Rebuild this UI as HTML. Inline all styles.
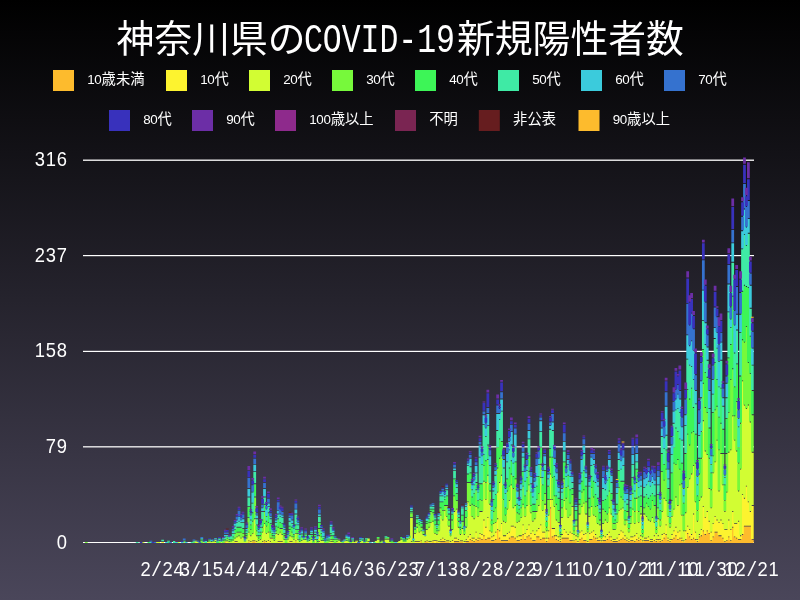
<!DOCTYPE html>
<html lang="ja">
<head>
<meta charset="utf-8">
<title>神奈川県のCOVID-19新規陽性者数</title>
<style>
html,body{margin:0;padding:0;background:#4a465a;}
body{width:800px;height:600px;overflow:hidden;}
svg{display:block;will-change:transform;}
svg text{font-family:"Liberation Mono", "Noto Sans CJK JP", monospace;fill:#fff;}
svg text.d,svg tspan.d{font-family:"Liberation Sans", "Noto Sans CJK JP", sans-serif;}
svg tspan.m{font-family:"Liberation Mono", "Noto Sans CJK JP", monospace;}
#title,#legend,#grid,#xlabels{will-change:transform;}
</style>
</head>
<body>
<svg width="800" height="600" viewBox="0 0 800 600">
<defs><linearGradient id="bg" x1="0" y1="0" x2="0" y2="1"><stop offset="0" stop-color="#000000"/><stop offset="1" stop-color="#4a465a"/></linearGradient></defs>
<rect x="0" y="0" width="800" height="600" fill="url(#bg)"/>
<g id="title" font-size="37.8">
<text y="52.4"><tspan x="116.6">神奈川県の</tspan><tspan x="303.9" font-size="41" textLength="151" lengthAdjust="spacingAndGlyphs">COVID-19</tspan><tspan x="457.0">新規陽性者数</tspan></text>
</g>
<g id="legend" font-size="14.3">
<rect x="53" y="70" width="21" height="21" fill="#fdbb2d"/>
<rect x="166" y="70" width="21" height="21" fill="#fdf32f"/>
<rect x="249" y="70" width="21" height="21" fill="#d2fd33"/>
<rect x="332" y="70" width="21" height="21" fill="#77f93b"/>
<rect x="415" y="70" width="21" height="21" fill="#3df557"/>
<rect x="498" y="70" width="21" height="21" fill="#3feaa5"/>
<rect x="581" y="70" width="21" height="21" fill="#3bcbdc"/>
<rect x="664" y="70" width="21" height="21" fill="#3572cf"/>
<rect x="109" y="110" width="21" height="21" fill="#3831bc"/>
<rect x="192" y="110" width="21" height="21" fill="#6c2ea6"/>
<rect x="275" y="110" width="21" height="21" fill="#8e2a8c"/>
<rect x="395" y="110" width="21" height="21" fill="#7a2552"/>
<rect x="478.8" y="110" width="21" height="21" fill="#661d1f"/>
<rect x="578.5" y="110" width="21" height="21" fill="#fdbb2d"/>
<text y="84.2"><tspan class="d" font-size="13.4" x="87.15 94.30">10</tspan><tspan x="101.60">歳未満</tspan></text>
<text y="84.2"><tspan class="d" font-size="13.4" x="200.15 207.30">10</tspan><tspan x="214.60">代</tspan></text>
<text y="84.2"><tspan class="d" font-size="13.4" x="283.15 290.30">20</tspan><tspan x="297.60">代</tspan></text>
<text y="84.2"><tspan class="d" font-size="13.4" x="366.15 373.30">30</tspan><tspan x="380.60">代</tspan></text>
<text y="84.2"><tspan class="d" font-size="13.4" x="449.15 456.30">40</tspan><tspan x="463.60">代</tspan></text>
<text y="84.2"><tspan class="d" font-size="13.4" x="532.15 539.30">50</tspan><tspan x="546.60">代</tspan></text>
<text y="84.2"><tspan class="d" font-size="13.4" x="615.15 622.30">60</tspan><tspan x="629.60">代</tspan></text>
<text y="84.2"><tspan class="d" font-size="13.4" x="698.15 705.30">70</tspan><tspan x="712.60">代</tspan></text>
<text y="124.2"><tspan class="d" font-size="13.4" x="143.15 150.30">80</tspan><tspan x="157.60">代</tspan></text>
<text y="124.2"><tspan class="d" font-size="13.4" x="226.15 233.30">90</tspan><tspan x="240.60">代</tspan></text>
<text y="124.2"><tspan class="d" font-size="13.4" x="309.15 316.30 323.45">100</tspan><tspan x="330.75">歳以上</tspan></text>
<text y="124.2"><tspan x="429.30">不明</tspan></text>
<text y="124.2"><tspan x="513.10">非公表</tspan></text>
<text y="124.2"><tspan class="d" font-size="13.4" x="612.65 619.80">90</tspan><tspan x="627.10">歳以上</tspan></text>
</g>
<g id="grid">
<rect x="83" y="159" width="671" height="1" fill="#fff" fill-opacity="0.45"/>
<rect x="83" y="160" width="671" height="1" fill="#fff" fill-opacity="0.85"/>
<rect x="83" y="255" width="671" height="1" fill="#fff" fill-opacity="1"/>
<rect x="83" y="256" width="671" height="1" fill="#fff" fill-opacity="0.2"/>
<rect x="83" y="350" width="671" height="1" fill="#fff" fill-opacity="0.2"/>
<rect x="83" y="351" width="671" height="1" fill="#fff" fill-opacity="1"/>
<rect x="83" y="446" width="671" height="1" fill="#fff" fill-opacity="0.8"/>
<rect x="83" y="447" width="671" height="1" fill="#fff" fill-opacity="0.45"/>
<rect x="83" y="542" width="671" height="1" fill="#fff" fill-opacity="1"/>
<text class="d" transform="translate(56.40 548.60) scale(0.92 1)" x="0.42" y="0" font-size="20">0</text>
<text class="d" transform="translate(45.40 453.00) scale(0.92 1)" x="0.42 12.37" y="0" font-size="20">79</text>
<text class="d" transform="translate(34.40 357.40) scale(0.92 1)" x="0.42 12.37 24.33" y="0" font-size="20">158</text>
<text class="d" transform="translate(34.40 261.80) scale(0.92 1)" x="0.42 12.37 24.33" y="0" font-size="20">237</text>
<text class="d" transform="translate(34.40 166.20) scale(0.92 1)" x="0.42 12.37 24.33" y="0" font-size="20">316</text>
</g>
<g id="bars">
<path fill="#fdbb2d" d="M223.95 541.89h2.76v1.11h-2.76zM247.46 541.89h2.76v1.11h-2.76zM251.38 541.89h2.76v1.11h-2.76zM253.34 541.89h2.76v1.11h-2.76zM263.13 541.89h2.76v1.11h-2.76zM294.48 541.89h2.76v1.11h-2.76zM419.86 541.89h2.76v1.11h-2.76zM423.78 541.89h2.76v1.11h-2.76zM425.73 541.89h2.76v1.11h-2.76zM431.61 541.89h2.76v1.11h-2.76zM435.53 541.89h2.76v1.11h-2.76zM439.45 541.89h2.76v1.11h-2.76zM441.41 541.89h2.76v1.11h-2.76zM443.37 541.89h2.76v1.11h-2.76zM445.32 541.89h2.76v1.11h-2.76zM447.28 541.89h2.76v1.11h-2.76zM453.16 541.89h2.76v1.11h-2.76zM455.12 541.89h2.76v1.11h-2.76zM457.08 541.89h2.76v1.11h-2.76zM459.04 541.89h2.76v1.11h-2.76zM461.00 541.89h2.76v1.11h-2.76zM464.92 541.89h2.76v1.11h-2.76zM466.87 541.89h2.76v1.11h-2.76zM468.83 539.79h2.76v3.21h-2.76zM470.79 541.00h2.76v2.00h-2.76zM472.75 541.89h2.76v1.11h-2.76zM474.71 539.79h2.76v3.21h-2.76zM476.67 541.00h2.76v2.00h-2.76zM478.63 538.58h2.76v4.42h-2.76zM480.59 539.79h2.76v3.21h-2.76zM482.55 536.16h2.76v6.84h-2.76zM484.51 539.79h2.76v3.21h-2.76zM486.47 538.58h2.76v4.42h-2.76zM488.42 538.58h2.76v4.42h-2.76zM490.38 541.00h2.76v2.00h-2.76zM492.34 541.00h2.76v2.00h-2.76zM494.30 539.79h2.76v3.21h-2.76zM496.26 530.11h2.76v12.89h-2.76zM498.22 538.58h2.76v4.42h-2.76zM500.18 541.00h2.76v2.00h-2.76zM502.14 541.00h2.76v2.00h-2.76zM504.10 541.00h2.76v2.00h-2.76zM506.06 541.00h2.76v2.00h-2.76zM508.01 538.58h2.76v4.42h-2.76zM509.97 537.37h2.76v5.63h-2.76zM511.93 537.37h2.76v5.63h-2.76zM513.89 538.58h2.76v4.42h-2.76zM515.85 541.00h2.76v2.00h-2.76zM517.81 541.00h2.76v2.00h-2.76zM519.77 539.79h2.76v3.21h-2.76zM521.73 534.95h2.76v8.05h-2.76zM523.69 539.79h2.76v3.21h-2.76zM525.65 537.37h2.76v5.63h-2.76zM527.61 536.16h2.76v6.84h-2.76zM529.56 538.58h2.76v4.42h-2.76zM531.52 541.00h2.76v2.00h-2.76zM533.48 541.00h2.76v2.00h-2.76zM535.44 537.37h2.76v5.63h-2.76zM537.40 537.37h2.76v5.63h-2.76zM539.36 539.79h2.76v3.21h-2.76zM541.32 538.58h2.76v4.42h-2.76zM543.28 538.58h2.76v4.42h-2.76zM545.24 541.89h2.76v1.11h-2.76zM547.20 538.58h2.76v4.42h-2.76zM549.16 508.33h2.76v34.67h-2.76zM551.11 537.37h2.76v5.63h-2.76zM553.07 536.16h2.76v6.84h-2.76zM555.03 539.79h2.76v3.21h-2.76zM556.99 541.00h2.76v2.00h-2.76zM558.95 541.89h2.76v1.11h-2.76zM560.91 538.58h2.76v4.42h-2.76zM562.87 538.58h2.76v4.42h-2.76zM564.83 538.58h2.76v4.42h-2.76zM566.79 538.58h2.76v4.42h-2.76zM568.75 541.00h2.76v2.00h-2.76zM570.70 541.00h2.76v2.00h-2.76zM572.66 541.89h2.76v1.11h-2.76zM574.62 539.79h2.76v3.21h-2.76zM578.54 539.79h2.76v3.21h-2.76zM580.50 538.58h2.76v4.42h-2.76zM582.46 541.00h2.76v2.00h-2.76zM584.42 541.00h2.76v2.00h-2.76zM588.34 539.79h2.76v3.21h-2.76zM590.30 539.79h2.76v3.21h-2.76zM592.25 537.37h2.76v5.63h-2.76zM594.21 538.58h2.76v4.42h-2.76zM596.17 541.00h2.76v2.00h-2.76zM598.13 541.00h2.76v2.00h-2.76zM600.09 541.89h2.76v1.11h-2.76zM602.05 541.00h2.76v2.00h-2.76zM604.01 541.00h2.76v2.00h-2.76zM605.97 539.79h2.76v3.21h-2.76zM607.93 537.37h2.76v5.63h-2.76zM609.89 541.00h2.76v2.00h-2.76zM611.85 541.89h2.76v1.11h-2.76zM613.80 541.89h2.76v1.11h-2.76zM615.76 541.89h2.76v1.11h-2.76zM617.72 541.00h2.76v2.00h-2.76zM619.68 539.79h2.76v3.21h-2.76zM621.64 538.58h2.76v4.42h-2.76zM623.60 539.79h2.76v3.21h-2.76zM625.56 541.00h2.76v2.00h-2.76zM627.52 541.89h2.76v1.11h-2.76zM629.48 541.00h2.76v2.00h-2.76zM631.44 541.00h2.76v2.00h-2.76zM633.40 541.89h2.76v1.11h-2.76zM635.35 539.79h2.76v3.21h-2.76zM637.31 541.00h2.76v2.00h-2.76zM639.27 539.79h2.76v3.21h-2.76zM641.23 541.89h2.76v1.11h-2.76zM643.19 541.00h2.76v2.00h-2.76zM645.15 541.00h2.76v2.00h-2.76zM647.11 541.00h2.76v2.00h-2.76zM649.07 541.89h2.76v1.11h-2.76zM651.03 541.89h2.76v1.11h-2.76zM652.99 541.00h2.76v2.00h-2.76zM654.94 541.89h2.76v1.11h-2.76zM656.90 539.79h2.76v3.21h-2.76zM658.86 541.89h2.76v1.11h-2.76zM660.82 541.00h2.76v2.00h-2.76zM662.78 538.58h2.76v4.42h-2.76zM664.74 534.95h2.76v8.05h-2.76zM666.70 541.00h2.76v2.00h-2.76zM668.66 541.89h2.76v1.11h-2.76zM670.62 539.79h2.76v3.21h-2.76zM672.58 538.58h2.76v4.42h-2.76zM674.54 536.16h2.76v6.84h-2.76zM676.49 539.79h2.76v3.21h-2.76zM678.45 538.58h2.76v4.42h-2.76zM680.41 541.00h2.76v2.00h-2.76zM682.37 541.89h2.76v1.11h-2.76zM684.33 539.79h2.76v3.21h-2.76zM686.29 533.74h2.76v9.26h-2.76zM688.25 537.37h2.76v5.63h-2.76zM690.21 539.79h2.76v3.21h-2.76zM692.17 538.58h2.76v4.42h-2.76zM694.13 539.79h2.76v3.21h-2.76zM696.09 541.89h2.76v1.11h-2.76zM698.04 537.37h2.76v5.63h-2.76zM700.00 536.16h2.76v6.84h-2.76zM701.96 531.32h2.76v11.68h-2.76zM703.92 534.95h2.76v8.05h-2.76zM705.88 531.32h2.76v11.68h-2.76zM707.84 533.74h2.76v9.26h-2.76zM709.80 541.00h2.76v2.00h-2.76zM711.76 537.37h2.76v5.63h-2.76zM713.72 532.53h2.76v10.47h-2.76zM715.68 532.53h2.76v10.47h-2.76zM717.63 536.16h2.76v6.84h-2.76zM719.59 536.16h2.76v6.84h-2.76zM721.55 538.58h2.76v4.42h-2.76zM723.51 541.89h2.76v1.11h-2.76zM725.47 541.00h2.76v2.00h-2.76zM727.43 537.37h2.76v5.63h-2.76zM729.39 541.00h2.76v2.00h-2.76zM731.35 527.69h2.76v15.31h-2.76zM733.31 537.37h2.76v5.63h-2.76zM735.27 538.58h2.76v4.42h-2.76zM737.23 539.79h2.76v3.21h-2.76zM739.18 539.79h2.76v3.21h-2.76zM741.14 534.95h2.76v8.05h-2.76zM743.10 526.48h2.76v16.52h-2.76zM745.06 526.48h2.76v16.52h-2.76zM747.02 526.48h2.76v16.52h-2.76zM748.98 526.48h2.76v16.52h-2.76zM750.94 539.79h2.76v3.21h-2.76z"/>
<path fill="#fdf32f" d="M161.26 541.89h2.76v1.11h-2.76zM194.56 541.89h2.76v1.11h-2.76zM206.32 541.89h2.76v1.11h-2.76zM214.16 541.89h2.76v1.11h-2.76zM225.91 541.89h2.76v1.11h-2.76zM233.75 541.89h2.76v1.11h-2.76zM235.70 541.89h2.76v1.11h-2.76zM247.46 540.68h2.76v1.00h-2.76zM249.42 541.89h2.76v1.11h-2.76zM251.38 540.68h2.76v1.00h-2.76zM253.34 540.68h2.76v1.00h-2.76zM255.30 541.89h2.76v1.11h-2.76zM261.17 541.89h2.76v1.11h-2.76zM263.13 540.68h2.76v1.00h-2.76zM265.09 541.89h2.76v1.11h-2.76zM267.05 541.00h2.76v2.00h-2.76zM269.01 541.89h2.76v1.11h-2.76zM276.85 541.89h2.76v1.11h-2.76zM278.80 541.89h2.76v1.11h-2.76zM280.76 541.89h2.76v1.11h-2.76zM288.60 541.89h2.76v1.11h-2.76zM290.56 541.89h2.76v1.11h-2.76zM294.48 540.68h2.76v1.00h-2.76zM317.99 541.89h2.76v1.11h-2.76zM329.74 541.89h2.76v1.11h-2.76zM343.45 541.89h2.76v1.11h-2.76zM355.21 541.89h2.76v1.11h-2.76zM366.96 541.89h2.76v1.11h-2.76zM410.06 541.89h2.76v1.11h-2.76zM413.98 541.89h2.76v1.11h-2.76zM415.94 541.89h2.76v1.11h-2.76zM417.90 541.89h2.76v1.11h-2.76zM419.86 540.68h2.76v1.00h-2.76zM425.73 540.68h2.76v1.00h-2.76zM427.69 541.89h2.76v1.11h-2.76zM429.65 541.89h2.76v1.11h-2.76zM431.61 540.68h2.76v1.00h-2.76zM433.57 541.00h2.76v2.00h-2.76zM435.53 540.68h2.76v1.00h-2.76zM437.49 541.89h2.76v1.11h-2.76zM439.45 539.79h2.76v1.57h-2.76zM441.41 538.58h2.76v2.78h-2.76zM443.37 539.79h2.76v1.57h-2.76zM445.32 540.68h2.76v1.00h-2.76zM447.28 540.68h2.76v1.00h-2.76zM449.24 541.89h2.76v1.11h-2.76zM451.20 541.00h2.76v2.00h-2.76zM453.16 538.58h2.76v2.78h-2.76zM455.12 538.58h2.76v2.78h-2.76zM457.08 539.79h2.76v1.57h-2.76zM459.04 540.68h2.76v1.00h-2.76zM461.00 540.68h2.76v1.00h-2.76zM462.96 541.89h2.76v1.11h-2.76zM464.92 539.79h2.76v1.57h-2.76zM466.87 537.37h2.76v3.99h-2.76zM468.83 534.95h2.76v3.99h-2.76zM470.79 538.58h2.76v1.57h-2.76zM472.75 538.58h2.76v2.78h-2.76zM474.71 532.53h2.76v6.41h-2.76zM476.67 538.58h2.76v1.57h-2.76zM478.63 533.74h2.76v3.99h-2.76zM480.59 534.95h2.76v3.99h-2.76zM482.55 520.43h2.76v14.88h-2.76zM484.51 527.69h2.76v11.25h-2.76zM486.47 518.01h2.76v19.72h-2.76zM488.42 531.32h2.76v6.41h-2.76zM490.38 537.37h2.76v2.78h-2.76zM492.34 536.16h2.76v3.99h-2.76zM494.30 532.53h2.76v6.41h-2.76zM496.26 519.22h2.76v10.04h-2.76zM498.22 531.32h2.76v6.41h-2.76zM500.18 524.06h2.76v16.09h-2.76zM502.14 536.16h2.76v3.99h-2.76zM504.10 536.16h2.76v3.99h-2.76zM506.06 533.74h2.76v6.41h-2.76zM508.01 532.53h2.76v5.20h-2.76zM509.97 526.48h2.76v10.04h-2.76zM511.93 526.48h2.76v10.04h-2.76zM513.89 527.69h2.76v10.04h-2.76zM515.85 537.37h2.76v2.78h-2.76zM517.81 536.16h2.76v3.99h-2.76zM519.77 536.16h2.76v2.78h-2.76zM521.73 525.27h2.76v8.83h-2.76zM523.69 533.74h2.76v5.20h-2.76zM525.65 530.11h2.76v6.41h-2.76zM527.61 525.27h2.76v10.04h-2.76zM529.56 533.74h2.76v3.99h-2.76zM531.52 531.32h2.76v8.83h-2.76zM533.48 534.95h2.76v5.20h-2.76zM535.44 531.32h2.76v5.20h-2.76zM537.40 528.90h2.76v7.62h-2.76zM539.36 525.27h2.76v13.67h-2.76zM541.32 532.53h2.76v5.20h-2.76zM543.28 532.53h2.76v5.20h-2.76zM545.24 538.58h2.76v2.78h-2.76zM547.20 531.32h2.76v6.41h-2.76zM549.16 499.86h2.76v7.62h-2.76zM551.11 528.90h2.76v7.62h-2.76zM553.07 528.90h2.76v6.41h-2.76zM555.03 536.16h2.76v2.78h-2.76zM556.99 537.37h2.76v2.78h-2.76zM558.95 539.79h2.76v1.57h-2.76zM560.91 534.95h2.76v2.78h-2.76zM562.87 530.11h2.76v7.62h-2.76zM564.83 532.53h2.76v5.20h-2.76zM566.79 534.95h2.76v2.78h-2.76zM568.75 532.53h2.76v7.62h-2.76zM570.70 533.74h2.76v6.41h-2.76zM572.66 540.68h2.76v1.00h-2.76zM574.62 536.16h2.76v2.78h-2.76zM576.58 541.89h2.76v1.11h-2.76zM578.54 532.53h2.76v6.41h-2.76zM580.50 531.32h2.76v6.41h-2.76zM582.46 534.95h2.76v5.20h-2.76zM584.42 533.74h2.76v6.41h-2.76zM586.38 541.89h2.76v1.11h-2.76zM588.34 533.74h2.76v5.20h-2.76zM590.30 532.53h2.76v6.41h-2.76zM592.25 531.32h2.76v5.20h-2.76zM594.21 534.95h2.76v2.78h-2.76zM596.17 538.58h2.76v1.57h-2.76zM598.13 537.37h2.76v2.78h-2.76zM600.09 540.68h2.76v1.00h-2.76zM602.05 536.16h2.76v3.99h-2.76zM604.01 537.37h2.76v2.78h-2.76zM605.97 534.95h2.76v3.99h-2.76zM607.93 532.53h2.76v3.99h-2.76zM609.89 537.37h2.76v2.78h-2.76zM611.85 539.79h2.76v1.57h-2.76zM613.80 539.79h2.76v1.57h-2.76zM615.76 538.58h2.76v2.78h-2.76zM617.72 534.95h2.76v5.20h-2.76zM619.68 531.32h2.76v7.62h-2.76zM621.64 532.53h2.76v5.20h-2.76zM623.60 536.16h2.76v2.78h-2.76zM625.56 538.58h2.76v1.57h-2.76zM627.52 539.79h2.76v1.57h-2.76zM629.48 537.37h2.76v2.78h-2.76zM631.44 537.37h2.76v2.78h-2.76zM633.40 536.16h2.76v5.20h-2.76zM635.35 533.74h2.76v5.20h-2.76zM637.31 538.58h2.76v1.57h-2.76zM639.27 536.16h2.76v2.78h-2.76zM641.23 540.68h2.76v1.00h-2.76zM643.19 538.58h2.76v1.57h-2.76zM645.15 538.58h2.76v1.57h-2.76zM647.11 537.37h2.76v2.78h-2.76zM649.07 539.79h2.76v1.57h-2.76zM651.03 539.79h2.76v1.57h-2.76zM652.99 536.16h2.76v3.99h-2.76zM654.94 539.79h2.76v1.57h-2.76zM656.90 536.16h2.76v2.78h-2.76zM658.86 539.79h2.76v1.57h-2.76zM660.82 534.95h2.76v5.20h-2.76zM662.78 533.74h2.76v3.99h-2.76zM664.74 525.27h2.76v8.83h-2.76zM666.70 538.58h2.76v1.57h-2.76zM668.66 539.79h2.76v1.57h-2.76zM670.62 534.95h2.76v3.99h-2.76zM672.58 531.32h2.76v6.41h-2.76zM674.54 527.69h2.76v7.62h-2.76zM676.49 532.53h2.76v6.41h-2.76zM678.45 531.32h2.76v6.41h-2.76zM680.41 538.58h2.76v1.57h-2.76zM682.37 540.68h2.76v1.00h-2.76zM684.33 531.32h2.76v7.62h-2.76zM686.29 526.48h2.76v6.41h-2.76zM688.25 530.11h2.76v6.41h-2.76zM690.21 534.95h2.76v3.99h-2.76zM692.17 514.38h2.76v23.35h-2.76zM694.13 532.53h2.76v6.41h-2.76zM696.09 539.79h2.76v1.57h-2.76zM698.04 534.95h2.76v1.57h-2.76zM700.00 530.11h2.76v5.20h-2.76zM701.96 507.12h2.76v23.35h-2.76zM703.92 518.01h2.76v16.09h-2.76zM705.88 511.96h2.76v18.51h-2.76zM707.84 521.64h2.76v11.25h-2.76zM709.80 532.53h2.76v7.62h-2.76zM711.76 524.06h2.76v12.46h-2.76zM713.72 516.80h2.76v14.88h-2.76zM715.68 520.43h2.76v11.25h-2.76zM717.63 522.85h2.76v12.46h-2.76zM719.59 520.43h2.76v14.88h-2.76zM721.55 524.06h2.76v13.67h-2.76zM723.51 530.11h2.76v11.25h-2.76zM725.47 530.11h2.76v10.04h-2.76zM727.43 520.43h2.76v16.09h-2.76zM729.39 530.11h2.76v10.04h-2.76zM731.35 511.96h2.76v14.88h-2.76zM733.31 524.06h2.76v12.46h-2.76zM735.27 524.06h2.76v13.67h-2.76zM737.23 521.64h2.76v17.30h-2.76zM739.18 536.16h2.76v2.78h-2.76zM741.14 495.02h2.76v39.08h-2.76zM743.10 498.65h2.76v26.98h-2.76zM745.06 486.55h2.76v39.08h-2.76zM747.02 502.28h2.76v23.35h-2.76zM748.98 511.96h2.76v13.67h-2.76zM750.94 505.91h2.76v33.03h-2.76z"/>
<path fill="#d2fd33" d="M141.67 541.89h2.76v1.11h-2.76zM155.38 541.89h2.76v1.11h-2.76zM157.34 541.89h2.76v1.11h-2.76zM176.93 541.89h2.76v1.11h-2.76zM182.81 541.89h2.76v1.11h-2.76zM194.56 540.68h2.76v1.00h-2.76zM196.52 541.89h2.76v1.11h-2.76zM202.40 541.89h2.76v1.11h-2.76zM208.28 541.89h2.76v1.11h-2.76zM210.24 541.89h2.76v1.11h-2.76zM212.20 541.89h2.76v1.11h-2.76zM214.16 539.79h2.76v1.57h-2.76zM220.03 541.89h2.76v1.11h-2.76zM223.95 540.68h2.76v1.00h-2.76zM225.91 540.68h2.76v1.00h-2.76zM227.87 541.89h2.76v1.11h-2.76zM229.83 541.89h2.76v1.11h-2.76zM231.79 541.00h2.76v2.00h-2.76zM233.75 538.58h2.76v2.78h-2.76zM235.70 537.37h2.76v3.99h-2.76zM237.66 536.16h2.76v6.84h-2.76zM239.62 538.58h2.76v4.42h-2.76zM241.58 537.37h2.76v5.63h-2.76zM243.54 541.89h2.76v1.11h-2.76zM245.50 538.58h2.76v4.42h-2.76zM247.46 532.53h2.76v7.62h-2.76zM249.42 536.16h2.76v5.20h-2.76zM251.38 533.74h2.76v6.41h-2.76zM253.34 519.22h2.76v20.93h-2.76zM255.30 536.16h2.76v5.20h-2.76zM257.25 541.00h2.76v2.00h-2.76zM259.21 539.79h2.76v3.21h-2.76zM261.17 532.53h2.76v8.83h-2.76zM263.13 524.06h2.76v16.09h-2.76zM265.09 533.74h2.76v7.62h-2.76zM267.05 532.53h2.76v7.62h-2.76zM269.01 538.58h2.76v2.78h-2.76zM270.97 538.58h2.76v4.42h-2.76zM272.93 541.00h2.76v2.00h-2.76zM274.89 533.74h2.76v9.26h-2.76zM276.85 534.95h2.76v6.41h-2.76zM278.80 532.53h2.76v8.83h-2.76zM280.76 534.95h2.76v6.41h-2.76zM282.72 539.79h2.76v3.21h-2.76zM286.64 539.79h2.76v3.21h-2.76zM288.60 536.16h2.76v5.20h-2.76zM290.56 537.37h2.76v3.99h-2.76zM292.52 539.79h2.76v3.21h-2.76zM294.48 533.74h2.76v6.41h-2.76zM296.44 539.79h2.76v3.21h-2.76zM298.40 541.89h2.76v1.11h-2.76zM300.35 541.00h2.76v2.00h-2.76zM302.31 539.79h2.76v3.21h-2.76zM304.27 539.79h2.76v3.21h-2.76zM306.23 541.89h2.76v1.11h-2.76zM308.19 541.00h2.76v2.00h-2.76zM310.15 539.79h2.76v3.21h-2.76zM314.07 539.79h2.76v3.21h-2.76zM317.99 536.16h2.76v5.20h-2.76zM319.94 541.00h2.76v2.00h-2.76zM321.90 541.00h2.76v2.00h-2.76zM327.78 541.89h2.76v1.11h-2.76zM329.74 539.79h2.76v1.57h-2.76zM331.70 541.89h2.76v1.11h-2.76zM335.62 541.89h2.76v1.11h-2.76zM337.58 541.00h2.76v2.00h-2.76zM339.54 541.89h2.76v1.11h-2.76zM343.45 540.68h2.76v1.00h-2.76zM345.41 541.00h2.76v2.00h-2.76zM347.37 541.89h2.76v1.11h-2.76zM351.29 541.89h2.76v1.11h-2.76zM353.25 541.89h2.76v1.11h-2.76zM355.21 540.68h2.76v1.00h-2.76zM359.13 541.89h2.76v1.11h-2.76zM361.09 541.00h2.76v2.00h-2.76zM365.00 541.89h2.76v1.11h-2.76zM366.96 538.58h2.76v2.78h-2.76zM374.80 541.00h2.76v2.00h-2.76zM376.76 539.79h2.76v3.21h-2.76zM380.68 541.89h2.76v1.11h-2.76zM384.59 539.79h2.76v3.21h-2.76zM386.55 539.79h2.76v3.21h-2.76zM388.51 541.89h2.76v1.11h-2.76zM396.35 541.89h2.76v1.11h-2.76zM398.31 541.00h2.76v2.00h-2.76zM400.27 539.79h2.76v3.21h-2.76zM402.23 541.89h2.76v1.11h-2.76zM404.18 541.89h2.76v1.11h-2.76zM406.14 539.79h2.76v3.21h-2.76zM408.10 538.58h2.76v4.42h-2.76zM410.06 518.01h2.76v23.35h-2.76zM412.02 541.89h2.76v1.11h-2.76zM413.98 533.74h2.76v7.62h-2.76zM415.94 527.69h2.76v13.67h-2.76zM417.90 532.53h2.76v8.83h-2.76zM419.86 531.32h2.76v8.83h-2.76zM421.82 534.95h2.76v8.05h-2.76zM423.78 536.16h2.76v5.20h-2.76zM425.73 530.11h2.76v10.04h-2.76zM427.69 527.69h2.76v13.67h-2.76zM429.65 522.85h2.76v18.51h-2.76zM431.61 521.64h2.76v18.51h-2.76zM433.57 533.74h2.76v6.41h-2.76zM435.53 534.95h2.76v5.20h-2.76zM437.49 531.32h2.76v10.04h-2.76zM439.45 515.59h2.76v23.35h-2.76zM441.41 520.43h2.76v17.30h-2.76zM443.37 510.75h2.76v28.19h-2.76zM445.32 516.80h2.76v23.35h-2.76zM447.28 526.48h2.76v13.67h-2.76zM449.24 536.16h2.76v5.20h-2.76zM451.20 530.11h2.76v10.04h-2.76zM453.16 511.96h2.76v25.77h-2.76zM455.12 509.54h2.76v28.19h-2.76zM457.08 527.69h2.76v11.25h-2.76zM459.04 534.95h2.76v5.20h-2.76zM461.00 528.90h2.76v11.25h-2.76zM462.96 534.95h2.76v6.41h-2.76zM464.92 527.69h2.76v11.25h-2.76zM466.87 502.28h2.76v34.24h-2.76zM468.83 505.91h2.76v28.19h-2.76zM470.79 516.80h2.76v20.93h-2.76zM472.75 519.22h2.76v18.51h-2.76zM474.71 507.12h2.76v24.56h-2.76zM476.67 516.80h2.76v20.93h-2.76zM478.63 511.96h2.76v20.93h-2.76zM480.59 511.96h2.76v22.14h-2.76zM482.55 481.71h2.76v37.87h-2.76zM484.51 499.86h2.76v26.98h-2.76zM486.47 475.66h2.76v41.50h-2.76zM488.42 504.70h2.76v25.77h-2.76zM490.38 532.53h2.76v3.99h-2.76zM492.34 524.06h2.76v11.25h-2.76zM494.30 522.85h2.76v8.83h-2.76zM496.26 492.60h2.76v25.77h-2.76zM498.22 482.92h2.76v47.55h-2.76zM500.18 475.66h2.76v47.55h-2.76zM502.14 521.64h2.76v13.67h-2.76zM504.10 522.85h2.76v12.46h-2.76zM506.06 509.54h2.76v23.35h-2.76zM508.01 501.07h2.76v30.61h-2.76zM509.97 485.34h2.76v40.29h-2.76zM511.93 508.33h2.76v17.30h-2.76zM513.89 505.91h2.76v20.93h-2.76zM515.85 522.85h2.76v13.67h-2.76zM517.81 521.64h2.76v13.67h-2.76zM519.77 518.01h2.76v17.30h-2.76zM521.73 504.70h2.76v19.72h-2.76zM523.69 516.80h2.76v16.09h-2.76zM525.65 505.91h2.76v23.35h-2.76zM527.61 485.34h2.76v39.08h-2.76zM529.56 513.17h2.76v19.72h-2.76zM531.52 521.64h2.76v8.83h-2.76zM533.48 519.22h2.76v14.88h-2.76zM535.44 511.96h2.76v18.51h-2.76zM537.40 505.91h2.76v22.14h-2.76zM539.36 478.08h2.76v46.34h-2.76zM541.32 510.75h2.76v20.93h-2.76zM543.28 504.70h2.76v26.98h-2.76zM545.24 531.32h2.76v6.41h-2.76zM547.20 515.59h2.76v14.88h-2.76zM549.16 474.45h2.76v24.56h-2.76zM551.11 499.86h2.76v28.19h-2.76zM553.07 507.12h2.76v20.93h-2.76zM555.03 520.43h2.76v14.88h-2.76zM556.99 522.85h2.76v13.67h-2.76zM558.95 537.37h2.76v1.57h-2.76zM560.91 518.01h2.76v16.09h-2.76zM562.87 501.07h2.76v28.19h-2.76zM564.83 509.54h2.76v22.14h-2.76zM566.79 518.01h2.76v16.09h-2.76zM568.75 515.59h2.76v16.09h-2.76zM570.70 507.12h2.76v25.77h-2.76zM572.66 534.95h2.76v5.20h-2.76zM574.62 526.48h2.76v8.83h-2.76zM576.58 537.37h2.76v3.99h-2.76zM578.54 514.38h2.76v17.30h-2.76zM580.50 507.12h2.76v23.35h-2.76zM582.46 503.49h2.76v30.61h-2.76zM584.42 514.38h2.76v18.51h-2.76zM586.38 532.53h2.76v8.83h-2.76zM588.34 516.80h2.76v16.09h-2.76zM590.30 507.12h2.76v24.56h-2.76zM592.25 515.59h2.76v14.88h-2.76zM594.21 516.80h2.76v17.30h-2.76zM596.17 524.06h2.76v13.67h-2.76zM598.13 525.27h2.76v11.25h-2.76zM600.09 538.58h2.76v1.57h-2.76zM602.05 524.06h2.76v11.25h-2.76zM604.01 520.43h2.76v16.09h-2.76zM605.97 522.85h2.76v11.25h-2.76zM607.93 508.33h2.76v23.35h-2.76zM609.89 514.38h2.76v22.14h-2.76zM611.85 530.11h2.76v8.83h-2.76zM613.80 530.11h2.76v8.83h-2.76zM615.76 522.85h2.76v14.88h-2.76zM617.72 510.75h2.76v23.35h-2.76zM619.68 509.54h2.76v20.93h-2.76zM621.64 508.33h2.76v23.35h-2.76zM623.60 525.27h2.76v10.04h-2.76zM625.56 520.43h2.76v17.30h-2.76zM627.52 532.53h2.76v6.41h-2.76zM629.48 524.06h2.76v12.46h-2.76zM631.44 509.54h2.76v26.98h-2.76zM633.40 524.06h2.76v11.25h-2.76zM635.35 498.65h2.76v34.24h-2.76zM637.31 522.85h2.76v14.88h-2.76zM639.27 514.38h2.76v20.93h-2.76zM641.23 537.37h2.76v2.78h-2.76zM643.19 514.38h2.76v23.35h-2.76zM645.15 516.80h2.76v20.93h-2.76zM647.11 520.43h2.76v16.09h-2.76zM649.07 521.64h2.76v17.30h-2.76zM651.03 518.01h2.76v20.93h-2.76zM652.99 522.85h2.76v12.46h-2.76zM654.94 533.74h2.76v5.20h-2.76zM656.90 519.22h2.76v16.09h-2.76zM658.86 526.48h2.76v12.46h-2.76zM660.82 511.96h2.76v22.14h-2.76zM662.78 498.65h2.76v34.24h-2.76zM664.74 501.07h2.76v23.35h-2.76zM666.70 516.80h2.76v20.93h-2.76zM668.66 527.69h2.76v11.25h-2.76zM670.62 516.80h2.76v17.30h-2.76zM672.58 509.54h2.76v20.93h-2.76zM674.54 497.44h2.76v29.40h-2.76zM676.49 505.91h2.76v25.77h-2.76zM678.45 485.34h2.76v45.13h-2.76zM680.41 515.59h2.76v22.14h-2.76zM682.37 531.32h2.76v8.83h-2.76zM684.33 513.17h2.76v17.30h-2.76zM686.29 487.76h2.76v37.87h-2.76zM688.25 479.29h2.76v49.97h-2.76zM690.21 474.45h2.76v59.66h-2.76zM692.17 465.98h2.76v47.55h-2.76zM694.13 502.28h2.76v29.40h-2.76zM696.09 521.64h2.76v17.30h-2.76zM698.04 501.07h2.76v33.03h-2.76zM700.00 497.44h2.76v31.82h-2.76zM701.96 421.20h2.76v85.07h-2.76zM703.92 451.46h2.76v65.71h-2.76zM705.88 455.09h2.76v56.02h-2.76zM707.84 488.97h2.76v31.82h-2.76zM709.80 508.33h2.76v23.35h-2.76zM711.76 473.24h2.76v49.97h-2.76zM713.72 462.35h2.76v53.60h-2.76zM715.68 440.57h2.76v79.02h-2.76zM717.63 491.39h2.76v30.61h-2.76zM719.59 453.88h2.76v65.71h-2.76zM721.55 485.34h2.76v37.87h-2.76zM723.51 511.96h2.76v17.30h-2.76zM725.47 492.60h2.76v36.66h-2.76zM727.43 452.67h2.76v66.92h-2.76zM729.39 450.25h2.76v79.02h-2.76zM731.35 416.36h2.76v94.75h-2.76zM733.31 440.57h2.76v82.65h-2.76zM735.27 451.46h2.76v71.76h-2.76zM737.23 491.39h2.76v29.40h-2.76zM739.18 469.61h2.76v65.71h-2.76zM741.14 381.27h2.76v112.90h-2.76zM743.10 405.47h2.76v92.33h-2.76zM745.06 409.10h2.76v76.60h-2.76zM747.02 405.47h2.76v95.96h-2.76zM748.98 422.41h2.76v88.70h-2.76zM750.94 452.67h2.76v52.39h-2.76z"/>
<path fill="#77f93b" d="M84.86 541.89h2.76v1.11h-2.76zM192.61 541.89h2.76v1.11h-2.76zM200.44 541.00h2.76v2.00h-2.76zM208.28 540.68h2.76v1.00h-2.76zM212.20 540.68h2.76v1.00h-2.76zM218.07 541.00h2.76v2.00h-2.76zM221.99 541.00h2.76v2.00h-2.76zM225.91 538.58h2.76v1.57h-2.76zM227.87 539.79h2.76v1.57h-2.76zM229.83 540.68h2.76v1.00h-2.76zM231.79 539.47h2.76v1.00h-2.76zM233.75 533.74h2.76v3.99h-2.76zM235.70 532.53h2.76v3.99h-2.76zM237.66 532.53h2.76v2.78h-2.76zM239.62 532.53h2.76v5.20h-2.76zM241.58 533.74h2.76v2.78h-2.76zM243.54 540.68h2.76v1.00h-2.76zM245.50 536.16h2.76v1.57h-2.76zM247.46 518.01h2.76v13.67h-2.76zM249.42 530.11h2.76v5.20h-2.76zM251.38 521.64h2.76v11.25h-2.76zM253.34 497.44h2.76v20.93h-2.76zM255.30 531.32h2.76v3.99h-2.76zM257.25 538.58h2.76v1.57h-2.76zM259.21 536.16h2.76v2.78h-2.76zM261.17 527.69h2.76v3.99h-2.76zM263.13 511.96h2.76v11.25h-2.76zM265.09 526.48h2.76v6.41h-2.76zM267.05 522.85h2.76v8.83h-2.76zM269.01 532.53h2.76v5.20h-2.76zM270.97 536.16h2.76v1.57h-2.76zM272.93 538.58h2.76v1.57h-2.76zM274.89 531.32h2.76v1.57h-2.76zM276.85 527.69h2.76v6.41h-2.76zM278.80 528.90h2.76v2.78h-2.76zM280.76 528.90h2.76v5.20h-2.76zM282.72 536.16h2.76v2.78h-2.76zM284.68 539.79h2.76v3.21h-2.76zM286.64 538.26h2.76v1.00h-2.76zM288.60 530.11h2.76v5.20h-2.76zM290.56 532.53h2.76v3.99h-2.76zM292.52 537.37h2.76v1.57h-2.76zM294.48 530.11h2.76v2.78h-2.76zM296.44 533.74h2.76v5.20h-2.76zM300.35 537.37h2.76v2.78h-2.76zM304.27 537.37h2.76v1.57h-2.76zM306.23 540.68h2.76v1.00h-2.76zM310.15 537.37h2.76v1.57h-2.76zM312.11 541.89h2.76v1.11h-2.76zM314.07 537.37h2.76v1.57h-2.76zM316.03 541.89h2.76v1.11h-2.76zM317.99 528.90h2.76v6.41h-2.76zM319.94 537.37h2.76v2.78h-2.76zM323.86 541.89h2.76v1.11h-2.76zM325.82 541.00h2.76v2.00h-2.76zM327.78 540.68h2.76v1.00h-2.76zM329.74 536.16h2.76v2.78h-2.76zM331.70 539.79h2.76v1.57h-2.76zM333.66 539.79h2.76v3.21h-2.76zM335.62 539.79h2.76v1.57h-2.76zM337.58 539.47h2.76v1.00h-2.76zM341.49 541.89h2.76v1.11h-2.76zM345.41 538.58h2.76v1.57h-2.76zM347.37 540.68h2.76v1.00h-2.76zM349.33 541.89h2.76v1.11h-2.76zM351.29 540.68h2.76v1.00h-2.76zM363.04 541.89h2.76v1.11h-2.76zM365.00 540.68h2.76v1.00h-2.76zM376.76 538.26h2.76v1.00h-2.76zM378.72 541.89h2.76v1.11h-2.76zM380.68 540.68h2.76v1.00h-2.76zM384.59 538.26h2.76v1.00h-2.76zM386.55 538.26h2.76v1.00h-2.76zM390.47 541.89h2.76v1.11h-2.76zM392.43 541.89h2.76v1.11h-2.76zM400.27 538.26h2.76v1.00h-2.76zM402.23 540.68h2.76v1.00h-2.76zM404.18 540.68h2.76v1.00h-2.76zM406.14 538.26h2.76v1.00h-2.76zM408.10 537.05h2.76v1.00h-2.76zM410.06 513.17h2.76v3.99h-2.76zM412.02 540.68h2.76v1.00h-2.76zM413.98 530.11h2.76v2.78h-2.76zM415.94 524.06h2.76v2.78h-2.76zM417.90 525.27h2.76v6.41h-2.76zM419.86 527.69h2.76v2.78h-2.76zM421.82 531.32h2.76v2.78h-2.76zM425.73 524.06h2.76v5.20h-2.76zM427.69 522.85h2.76v3.99h-2.76zM429.65 511.96h2.76v10.04h-2.76zM431.61 513.17h2.76v7.62h-2.76zM433.57 525.27h2.76v7.62h-2.76zM435.53 531.32h2.76v2.78h-2.76zM437.49 525.27h2.76v5.20h-2.76zM439.45 508.33h2.76v6.41h-2.76zM441.41 510.75h2.76v8.83h-2.76zM443.37 505.91h2.76v3.99h-2.76zM445.32 505.91h2.76v10.04h-2.76zM447.28 520.43h2.76v5.20h-2.76zM449.24 534.63h2.76v1.00h-2.76zM451.20 520.43h2.76v8.83h-2.76zM453.16 496.23h2.76v14.88h-2.76zM455.12 501.07h2.76v7.62h-2.76zM457.08 521.64h2.76v5.20h-2.76zM459.04 530.11h2.76v3.99h-2.76zM461.00 521.64h2.76v6.41h-2.76zM462.96 531.32h2.76v2.78h-2.76zM464.92 518.01h2.76v8.83h-2.76zM466.87 482.92h2.76v18.51h-2.76zM468.83 482.92h2.76v22.14h-2.76zM470.79 504.70h2.76v11.25h-2.76zM472.75 505.91h2.76v12.46h-2.76zM474.71 490.18h2.76v16.09h-2.76zM476.67 508.33h2.76v7.62h-2.76zM478.63 499.86h2.76v11.25h-2.76zM480.59 501.07h2.76v10.04h-2.76zM482.55 465.98h2.76v14.88h-2.76zM484.51 482.92h2.76v16.09h-2.76zM486.47 459.93h2.76v14.88h-2.76zM488.42 491.39h2.76v12.46h-2.76zM490.38 525.27h2.76v6.41h-2.76zM492.34 511.96h2.76v11.25h-2.76zM494.30 508.33h2.76v13.67h-2.76zM496.26 468.40h2.76v23.35h-2.76zM498.22 458.72h2.76v23.35h-2.76zM500.18 456.30h2.76v18.51h-2.76zM502.14 499.86h2.76v20.93h-2.76zM504.10 515.59h2.76v6.41h-2.76zM506.06 491.39h2.76v17.30h-2.76zM508.01 486.55h2.76v13.67h-2.76zM509.97 474.45h2.76v10.04h-2.76zM511.93 488.97h2.76v18.51h-2.76zM513.89 479.29h2.76v25.77h-2.76zM515.85 513.17h2.76v8.83h-2.76zM517.81 514.38h2.76v6.41h-2.76zM519.77 508.33h2.76v8.83h-2.76zM521.73 486.55h2.76v17.30h-2.76zM523.69 508.33h2.76v7.62h-2.76zM525.65 491.39h2.76v13.67h-2.76zM527.61 472.03h2.76v12.46h-2.76zM529.56 505.91h2.76v6.41h-2.76zM531.52 511.96h2.76v8.83h-2.76zM533.48 511.96h2.76v6.41h-2.76zM535.44 499.86h2.76v11.25h-2.76zM537.40 493.81h2.76v11.25h-2.76zM539.36 464.77h2.76v12.46h-2.76zM541.32 501.07h2.76v8.83h-2.76zM543.28 493.81h2.76v10.04h-2.76zM545.24 527.69h2.76v2.78h-2.76zM547.20 499.86h2.76v14.88h-2.76zM549.16 457.51h2.76v16.09h-2.76zM551.11 478.08h2.76v20.93h-2.76zM553.07 496.23h2.76v10.04h-2.76zM555.03 504.70h2.76v14.88h-2.76zM556.99 510.75h2.76v11.25h-2.76zM558.95 534.95h2.76v1.57h-2.76zM560.91 508.33h2.76v8.83h-2.76zM562.87 479.29h2.76v20.93h-2.76zM564.83 498.65h2.76v10.04h-2.76zM566.79 486.55h2.76v30.61h-2.76zM568.75 503.49h2.76v11.25h-2.76zM570.70 495.02h2.76v11.25h-2.76zM572.66 531.32h2.76v2.78h-2.76zM574.62 520.43h2.76v5.20h-2.76zM576.58 534.95h2.76v1.57h-2.76zM578.54 504.70h2.76v8.83h-2.76zM580.50 492.60h2.76v13.67h-2.76zM582.46 490.18h2.76v12.46h-2.76zM584.42 502.28h2.76v11.25h-2.76zM586.38 530.11h2.76v1.57h-2.76zM588.34 508.33h2.76v7.62h-2.76zM590.30 487.76h2.76v18.51h-2.76zM592.25 497.44h2.76v17.30h-2.76zM594.21 507.12h2.76v8.83h-2.76zM596.17 505.91h2.76v17.30h-2.76zM598.13 520.43h2.76v3.99h-2.76zM600.09 537.05h2.76v1.00h-2.76zM602.05 509.54h2.76v13.67h-2.76zM604.01 511.96h2.76v7.62h-2.76zM605.97 514.38h2.76v7.62h-2.76zM607.93 491.39h2.76v16.09h-2.76zM609.89 501.07h2.76v12.46h-2.76zM611.85 524.06h2.76v5.20h-2.76zM613.80 524.06h2.76v5.20h-2.76zM615.76 514.38h2.76v7.62h-2.76zM617.72 487.76h2.76v22.14h-2.76zM619.68 497.44h2.76v11.25h-2.76zM621.64 499.86h2.76v7.62h-2.76zM623.60 520.43h2.76v3.99h-2.76zM625.56 511.96h2.76v7.62h-2.76zM627.52 528.90h2.76v2.78h-2.76zM629.48 516.80h2.76v6.41h-2.76zM631.44 493.81h2.76v14.88h-2.76zM633.40 511.96h2.76v11.25h-2.76zM635.35 482.92h2.76v14.88h-2.76zM637.31 511.96h2.76v10.04h-2.76zM639.27 507.12h2.76v6.41h-2.76zM641.23 533.74h2.76v2.78h-2.76zM643.19 508.33h2.76v5.20h-2.76zM645.15 503.49h2.76v12.46h-2.76zM647.11 507.12h2.76v12.46h-2.76zM649.07 509.54h2.76v11.25h-2.76zM651.03 501.07h2.76v16.09h-2.76zM652.99 505.91h2.76v16.09h-2.76zM654.94 530.11h2.76v2.78h-2.76zM656.90 508.33h2.76v10.04h-2.76zM658.86 520.43h2.76v5.20h-2.76zM660.82 472.03h2.76v39.08h-2.76zM662.78 480.50h2.76v17.30h-2.76zM664.74 469.61h2.76v30.61h-2.76zM666.70 503.49h2.76v12.46h-2.76zM668.66 524.06h2.76v2.78h-2.76zM670.62 501.07h2.76v14.88h-2.76zM672.58 463.56h2.76v45.13h-2.76zM674.54 464.77h2.76v31.82h-2.76zM676.49 459.93h2.76v45.13h-2.76zM678.45 469.61h2.76v14.88h-2.76zM680.41 484.13h2.76v30.61h-2.76zM682.37 515.59h2.76v14.88h-2.76zM684.33 478.08h2.76v34.24h-2.76zM686.29 434.52h2.76v52.39h-2.76zM688.25 445.41h2.76v33.03h-2.76zM690.21 433.31h2.76v40.29h-2.76zM692.17 432.10h2.76v33.03h-2.76zM694.13 463.56h2.76v37.87h-2.76zM696.09 510.75h2.76v10.04h-2.76zM698.04 474.45h2.76v25.77h-2.76zM700.00 458.72h2.76v37.87h-2.76zM701.96 383.69h2.76v36.66h-2.76zM703.92 407.89h2.76v42.71h-2.76zM705.88 412.73h2.76v41.50h-2.76zM707.84 458.72h2.76v29.40h-2.76zM709.80 490.18h2.76v17.30h-2.76zM711.76 456.30h2.76v16.09h-2.76zM713.72 410.31h2.76v51.18h-2.76zM715.68 406.68h2.76v33.03h-2.76zM717.63 450.25h2.76v40.29h-2.76zM719.59 423.63h2.76v29.40h-2.76zM721.55 453.88h2.76v30.61h-2.76zM723.51 501.07h2.76v10.04h-2.76zM725.47 453.88h2.76v37.87h-2.76zM727.43 412.73h2.76v39.08h-2.76zM729.39 380.06h2.76v69.34h-2.76zM731.35 369.17h2.76v46.34h-2.76zM733.31 416.36h2.76v23.35h-2.76zM735.27 401.84h2.76v48.76h-2.76zM737.23 463.56h2.76v26.98h-2.76zM739.18 423.63h2.76v45.13h-2.76zM741.14 340.13h2.76v40.29h-2.76zM743.10 342.55h2.76v62.08h-2.76zM745.06 326.82h2.76v81.44h-2.76zM747.02 363.12h2.76v41.50h-2.76zM748.98 374.01h2.76v47.55h-2.76zM750.94 415.15h2.76v36.66h-2.76z"/>
<path fill="#3df557" d="M147.55 541.89h2.76v1.11h-2.76zM167.14 541.89h2.76v1.11h-2.76zM182.81 540.68h2.76v1.00h-2.76zM200.44 539.47h2.76v1.00h-2.76zM208.28 539.47h2.76v1.00h-2.76zM216.11 541.89h2.76v1.11h-2.76zM221.99 539.47h2.76v1.00h-2.76zM223.95 539.47h2.76v1.00h-2.76zM225.91 537.05h2.76v1.00h-2.76zM229.83 539.47h2.76v1.00h-2.76zM231.79 537.37h2.76v1.57h-2.76zM233.75 530.11h2.76v2.78h-2.76zM235.70 527.69h2.76v3.99h-2.76zM237.66 527.69h2.76v3.99h-2.76zM239.62 527.69h2.76v3.99h-2.76zM241.58 528.90h2.76v3.99h-2.76zM245.50 533.74h2.76v1.57h-2.76zM247.46 507.12h2.76v10.04h-2.76zM249.42 525.27h2.76v3.99h-2.76zM251.38 513.17h2.76v7.62h-2.76zM253.34 484.13h2.76v12.46h-2.76zM255.30 525.27h2.76v5.20h-2.76zM257.25 536.16h2.76v1.57h-2.76zM259.21 532.53h2.76v2.78h-2.76zM261.17 520.43h2.76v6.41h-2.76zM263.13 504.70h2.76v6.41h-2.76zM265.09 521.64h2.76v3.99h-2.76zM267.05 513.17h2.76v8.83h-2.76zM269.01 524.06h2.76v7.62h-2.76zM270.97 533.74h2.76v1.57h-2.76zM272.93 536.16h2.76v1.57h-2.76zM274.89 526.48h2.76v3.99h-2.76zM276.85 519.22h2.76v7.62h-2.76zM278.80 522.85h2.76v5.20h-2.76zM280.76 524.06h2.76v3.99h-2.76zM282.72 533.74h2.76v1.57h-2.76zM286.64 537.05h2.76v1.00h-2.76zM288.60 526.48h2.76v2.78h-2.76zM290.56 527.69h2.76v3.99h-2.76zM292.52 534.95h2.76v1.57h-2.76zM294.48 525.27h2.76v3.99h-2.76zM296.44 530.11h2.76v2.78h-2.76zM298.40 539.79h2.76v1.57h-2.76zM300.35 534.95h2.76v1.57h-2.76zM304.27 534.95h2.76v1.57h-2.76zM308.19 538.58h2.76v1.57h-2.76zM310.15 534.95h2.76v1.57h-2.76zM312.11 540.68h2.76v1.00h-2.76zM314.07 534.95h2.76v1.57h-2.76zM316.03 539.79h2.76v1.57h-2.76zM317.99 522.85h2.76v5.20h-2.76zM319.94 533.74h2.76v2.78h-2.76zM321.90 538.58h2.76v1.57h-2.76zM325.82 539.47h2.76v1.00h-2.76zM327.78 539.47h2.76v1.00h-2.76zM329.74 533.74h2.76v1.57h-2.76zM331.70 536.16h2.76v2.78h-2.76zM335.62 538.26h2.76v1.00h-2.76zM347.37 539.47h2.76v1.00h-2.76zM361.09 539.47h2.76v1.00h-2.76zM365.00 539.47h2.76v1.00h-2.76zM376.76 537.05h2.76v1.00h-2.76zM386.55 537.05h2.76v1.00h-2.76zM390.47 540.68h2.76v1.00h-2.76zM400.27 537.05h2.76v1.00h-2.76zM402.23 539.47h2.76v1.00h-2.76zM404.18 539.47h2.76v1.00h-2.76zM408.10 535.84h2.76v1.00h-2.76zM410.06 511.64h2.76v1.00h-2.76zM413.98 528.58h2.76v1.00h-2.76zM415.94 519.22h2.76v3.99h-2.76zM417.90 522.85h2.76v1.57h-2.76zM419.86 524.06h2.76v2.78h-2.76zM425.73 521.64h2.76v1.57h-2.76zM427.69 519.22h2.76v2.78h-2.76zM429.65 509.54h2.76v1.57h-2.76zM431.61 509.54h2.76v2.78h-2.76zM433.57 520.43h2.76v3.99h-2.76zM435.53 528.90h2.76v1.57h-2.76zM437.49 520.43h2.76v3.99h-2.76zM439.45 502.28h2.76v5.20h-2.76zM441.41 502.28h2.76v7.62h-2.76zM443.37 499.86h2.76v5.20h-2.76zM445.32 496.23h2.76v8.83h-2.76zM447.28 514.38h2.76v5.20h-2.76zM451.20 514.38h2.76v5.20h-2.76zM453.16 479.29h2.76v16.09h-2.76zM455.12 493.81h2.76v6.41h-2.76zM457.08 518.01h2.76v2.78h-2.76zM459.04 527.69h2.76v1.57h-2.76zM461.00 515.59h2.76v5.20h-2.76zM462.96 529.79h2.76v1.00h-2.76zM464.92 510.75h2.76v6.41h-2.76zM466.87 474.45h2.76v7.62h-2.76zM468.83 473.24h2.76v8.83h-2.76zM470.79 497.44h2.76v6.41h-2.76zM472.75 493.81h2.76v11.25h-2.76zM474.71 482.92h2.76v6.41h-2.76zM476.67 501.07h2.76v6.41h-2.76zM478.63 484.13h2.76v14.88h-2.76zM480.59 484.13h2.76v16.09h-2.76zM482.55 455.09h2.76v10.04h-2.76zM484.51 461.14h2.76v20.93h-2.76zM486.47 445.41h2.76v13.67h-2.76zM488.42 484.13h2.76v6.41h-2.76zM490.38 520.43h2.76v3.99h-2.76zM492.34 499.86h2.76v11.25h-2.76zM494.30 495.02h2.76v12.46h-2.76zM496.26 447.83h2.76v19.72h-2.76zM498.22 439.36h2.76v18.51h-2.76zM500.18 441.78h2.76v13.67h-2.76zM502.14 485.34h2.76v13.67h-2.76zM504.10 508.33h2.76v6.41h-2.76zM506.06 479.29h2.76v11.25h-2.76zM508.01 468.40h2.76v17.30h-2.76zM509.97 461.14h2.76v12.46h-2.76zM511.93 476.87h2.76v11.25h-2.76zM513.89 462.35h2.76v16.09h-2.76zM515.85 504.70h2.76v7.62h-2.76zM517.81 509.54h2.76v3.99h-2.76zM519.77 499.86h2.76v7.62h-2.76zM521.73 472.03h2.76v13.67h-2.76zM523.69 496.23h2.76v11.25h-2.76zM525.65 478.08h2.76v12.46h-2.76zM527.61 456.30h2.76v14.88h-2.76zM529.56 492.60h2.76v12.46h-2.76zM531.52 504.70h2.76v6.41h-2.76zM533.48 504.70h2.76v6.41h-2.76zM535.44 486.55h2.76v12.46h-2.76zM537.40 476.87h2.76v16.09h-2.76zM539.36 447.83h2.76v16.09h-2.76zM541.32 485.34h2.76v14.88h-2.76zM543.28 470.82h2.76v22.14h-2.76zM545.24 521.64h2.76v5.20h-2.76zM547.20 486.55h2.76v12.46h-2.76zM549.16 449.04h2.76v7.62h-2.76zM551.11 457.51h2.76v19.72h-2.76zM553.07 476.87h2.76v18.51h-2.76zM555.03 496.23h2.76v7.62h-2.76zM556.99 498.65h2.76v11.25h-2.76zM558.95 532.53h2.76v1.57h-2.76zM560.91 499.86h2.76v7.62h-2.76zM562.87 462.35h2.76v16.09h-2.76zM564.83 487.76h2.76v10.04h-2.76zM566.79 475.66h2.76v10.04h-2.76zM568.75 490.18h2.76v12.46h-2.76zM570.70 488.97h2.76v5.20h-2.76zM572.66 526.48h2.76v3.99h-2.76zM574.62 510.75h2.76v8.83h-2.76zM576.58 533.42h2.76v1.00h-2.76zM578.54 499.86h2.76v3.99h-2.76zM580.50 481.71h2.76v10.04h-2.76zM582.46 470.82h2.76v18.51h-2.76zM584.42 486.55h2.76v14.88h-2.76zM586.38 528.58h2.76v1.00h-2.76zM588.34 498.65h2.76v8.83h-2.76zM590.30 476.87h2.76v10.04h-2.76zM592.25 481.71h2.76v14.88h-2.76zM594.21 495.02h2.76v11.25h-2.76zM596.17 498.65h2.76v6.41h-2.76zM598.13 513.17h2.76v6.41h-2.76zM600.09 535.84h2.76v1.00h-2.76zM602.05 501.07h2.76v7.62h-2.76zM604.01 499.86h2.76v11.25h-2.76zM605.97 496.23h2.76v17.30h-2.76zM607.93 478.08h2.76v12.46h-2.76zM609.89 493.81h2.76v6.41h-2.76zM611.85 516.80h2.76v6.41h-2.76zM613.80 520.43h2.76v2.78h-2.76zM615.76 504.70h2.76v8.83h-2.76zM617.72 470.82h2.76v16.09h-2.76zM619.68 481.71h2.76v14.88h-2.76zM621.64 481.71h2.76v17.30h-2.76zM623.60 510.75h2.76v8.83h-2.76zM625.56 504.70h2.76v6.41h-2.76zM627.52 524.06h2.76v3.99h-2.76zM629.48 508.33h2.76v7.62h-2.76zM631.44 478.08h2.76v14.88h-2.76zM633.40 498.65h2.76v12.46h-2.76zM635.35 469.61h2.76v12.46h-2.76zM637.31 497.44h2.76v13.67h-2.76zM639.27 496.23h2.76v10.04h-2.76zM641.23 530.11h2.76v2.78h-2.76zM643.19 497.44h2.76v10.04h-2.76zM645.15 495.02h2.76v7.62h-2.76zM647.11 498.65h2.76v7.62h-2.76zM649.07 496.23h2.76v12.46h-2.76zM651.03 493.81h2.76v6.41h-2.76zM652.99 496.23h2.76v8.83h-2.76zM654.94 527.69h2.76v1.57h-2.76zM656.90 495.02h2.76v12.46h-2.76zM658.86 510.75h2.76v8.83h-2.76zM660.82 453.88h2.76v17.30h-2.76zM662.78 464.77h2.76v14.88h-2.76zM664.74 450.25h2.76v18.51h-2.76zM666.70 488.97h2.76v13.67h-2.76zM668.66 518.01h2.76v5.20h-2.76zM670.62 473.24h2.76v26.98h-2.76zM672.58 447.83h2.76v14.88h-2.76zM674.54 428.47h2.76v35.45h-2.76zM676.49 432.10h2.76v26.98h-2.76zM678.45 439.36h2.76v29.40h-2.76zM680.41 463.56h2.76v19.72h-2.76zM682.37 503.49h2.76v11.25h-2.76zM684.33 453.88h2.76v23.35h-2.76zM686.29 389.74h2.76v43.92h-2.76zM688.25 399.42h2.76v45.13h-2.76zM690.21 388.53h2.76v43.92h-2.76zM692.17 407.89h2.76v23.35h-2.76zM694.13 434.52h2.76v28.19h-2.76zM696.09 496.23h2.76v13.67h-2.76zM698.04 458.72h2.76v14.88h-2.76zM700.00 432.10h2.76v25.77h-2.76zM701.96 349.81h2.76v33.03h-2.76zM703.92 372.80h2.76v34.24h-2.76zM705.88 377.64h2.76v34.24h-2.76zM707.84 428.47h2.76v29.40h-2.76zM709.80 473.24h2.76v16.09h-2.76zM711.76 412.73h2.76v42.71h-2.76zM713.72 363.12h2.76v46.34h-2.76zM715.68 380.06h2.76v25.77h-2.76zM717.63 417.57h2.76v31.82h-2.76zM719.59 388.53h2.76v34.24h-2.76zM721.55 429.68h2.76v23.35h-2.76zM723.51 485.34h2.76v14.88h-2.76zM725.47 418.78h2.76v34.24h-2.76zM727.43 358.28h2.76v53.60h-2.76zM729.39 344.97h2.76v34.24h-2.76zM731.35 296.56h2.76v71.76h-2.76zM733.31 387.32h2.76v28.19h-2.76zM735.27 364.33h2.76v36.66h-2.76zM737.23 447.83h2.76v14.88h-2.76zM739.18 376.43h2.76v46.34h-2.76zM741.14 291.72h2.76v47.55h-2.76zM743.10 285.67h2.76v56.02h-2.76zM745.06 286.88h2.76v39.08h-2.76zM747.02 288.09h2.76v74.18h-2.76zM748.98 336.50h2.76v36.66h-2.76zM750.94 390.95h2.76v23.35h-2.76z"/>
<path fill="#3feaa5" d="M135.79 541.89h2.76v1.11h-2.76zM149.51 541.89h2.76v1.11h-2.76zM161.26 539.79h2.76v1.57h-2.76zM167.14 540.68h2.76v1.00h-2.76zM173.01 541.00h2.76v2.00h-2.76zM190.65 541.89h2.76v1.11h-2.76zM192.61 540.68h2.76v1.00h-2.76zM204.36 541.00h2.76v2.00h-2.76zM216.11 540.68h2.76v1.00h-2.76zM218.07 538.58h2.76v1.57h-2.76zM220.03 540.68h2.76v1.00h-2.76zM223.95 537.37h2.76v1.57h-2.76zM225.91 534.95h2.76v1.57h-2.76zM227.87 537.37h2.76v1.57h-2.76zM229.83 536.16h2.76v2.78h-2.76zM231.79 533.74h2.76v2.78h-2.76zM233.75 526.48h2.76v2.78h-2.76zM235.70 522.85h2.76v3.99h-2.76zM237.66 521.64h2.76v5.20h-2.76zM239.62 522.85h2.76v3.99h-2.76zM241.58 522.85h2.76v5.20h-2.76zM245.50 531.32h2.76v1.57h-2.76zM247.46 497.44h2.76v8.83h-2.76zM249.42 520.43h2.76v3.99h-2.76zM251.38 503.49h2.76v8.83h-2.76zM253.34 472.03h2.76v11.25h-2.76zM255.30 519.22h2.76v5.20h-2.76zM257.25 532.53h2.76v2.78h-2.76zM259.21 527.69h2.76v3.99h-2.76zM261.17 511.96h2.76v7.62h-2.76zM263.13 497.44h2.76v6.41h-2.76zM265.09 516.80h2.76v3.99h-2.76zM267.05 507.12h2.76v5.20h-2.76zM269.01 519.22h2.76v3.99h-2.76zM270.97 531.32h2.76v1.57h-2.76zM272.93 533.74h2.76v1.57h-2.76zM274.89 522.85h2.76v2.78h-2.76zM276.85 514.38h2.76v3.99h-2.76zM278.80 516.80h2.76v5.20h-2.76zM280.76 518.01h2.76v5.20h-2.76zM282.72 530.11h2.76v2.78h-2.76zM286.64 535.84h2.76v1.00h-2.76zM288.60 521.64h2.76v3.99h-2.76zM290.56 524.06h2.76v2.78h-2.76zM292.52 528.90h2.76v5.20h-2.76zM294.48 514.38h2.76v10.04h-2.76zM296.44 525.27h2.76v3.99h-2.76zM298.40 538.26h2.76v1.00h-2.76zM300.35 533.42h2.76v1.00h-2.76zM302.31 538.26h2.76v1.00h-2.76zM304.27 533.42h2.76v1.00h-2.76zM306.23 539.47h2.76v1.00h-2.76zM308.19 534.95h2.76v2.78h-2.76zM310.15 532.53h2.76v1.57h-2.76zM314.07 532.53h2.76v1.57h-2.76zM317.99 516.80h2.76v5.20h-2.76zM319.94 531.32h2.76v1.57h-2.76zM321.90 537.05h2.76v1.00h-2.76zM323.86 540.68h2.76v1.00h-2.76zM325.82 538.26h2.76v1.00h-2.76zM327.78 538.26h2.76v1.00h-2.76zM329.74 526.48h2.76v6.41h-2.76zM331.70 532.53h2.76v2.78h-2.76zM333.66 538.26h2.76v1.00h-2.76zM345.41 537.05h2.76v1.00h-2.76zM347.37 538.26h2.76v1.00h-2.76zM351.29 539.47h2.76v1.00h-2.76zM359.13 539.79h2.76v1.57h-2.76zM365.00 538.26h2.76v1.00h-2.76zM372.84 541.89h2.76v1.11h-2.76zM384.59 536.16h2.76v1.57h-2.76zM402.23 538.26h2.76v1.00h-2.76zM410.06 509.54h2.76v1.57h-2.76zM413.98 527.37h2.76v1.00h-2.76zM415.94 516.80h2.76v1.57h-2.76zM417.90 520.43h2.76v1.57h-2.76zM419.86 521.64h2.76v1.57h-2.76zM425.73 520.11h2.76v1.00h-2.76zM427.69 516.80h2.76v1.57h-2.76zM429.65 507.12h2.76v1.57h-2.76zM431.61 507.12h2.76v1.57h-2.76zM433.57 518.01h2.76v1.57h-2.76zM435.53 526.48h2.76v1.57h-2.76zM437.49 516.80h2.76v2.78h-2.76zM439.45 496.23h2.76v5.20h-2.76zM441.41 496.23h2.76v5.20h-2.76zM443.37 497.44h2.76v1.57h-2.76zM445.32 490.18h2.76v5.20h-2.76zM447.28 510.75h2.76v2.78h-2.76zM449.24 533.42h2.76v1.00h-2.76zM451.20 512.85h2.76v1.00h-2.76zM453.16 470.82h2.76v7.62h-2.76zM455.12 487.76h2.76v5.20h-2.76zM457.08 514.38h2.76v2.78h-2.76zM459.04 524.06h2.76v2.78h-2.76zM461.00 508.33h2.76v6.41h-2.76zM462.96 528.58h2.76v1.00h-2.76zM464.92 507.12h2.76v2.78h-2.76zM466.87 465.98h2.76v7.62h-2.76zM468.83 467.19h2.76v5.20h-2.76zM470.79 490.18h2.76v6.41h-2.76zM472.75 485.34h2.76v7.62h-2.76zM474.71 473.24h2.76v8.83h-2.76zM476.67 492.60h2.76v7.62h-2.76zM478.63 457.51h2.76v25.77h-2.76zM480.59 464.77h2.76v18.51h-2.76zM482.55 424.84h2.76v29.40h-2.76zM484.51 436.94h2.76v23.35h-2.76zM486.47 426.05h2.76v18.51h-2.76zM488.42 465.98h2.76v17.30h-2.76zM490.38 510.75h2.76v8.83h-2.76zM492.34 491.39h2.76v7.62h-2.76zM494.30 475.66h2.76v18.51h-2.76zM496.26 430.89h2.76v16.09h-2.76zM498.22 419.99h2.76v18.51h-2.76zM500.18 411.52h2.76v29.40h-2.76zM502.14 468.40h2.76v16.09h-2.76zM504.10 493.81h2.76v13.67h-2.76zM506.06 462.35h2.76v16.09h-2.76zM508.01 450.25h2.76v17.30h-2.76zM509.97 445.41h2.76v14.88h-2.76zM511.93 463.56h2.76v12.46h-2.76zM513.89 447.83h2.76v13.67h-2.76zM515.85 498.65h2.76v5.20h-2.76zM517.81 505.91h2.76v2.78h-2.76zM519.77 490.18h2.76v8.83h-2.76zM521.73 457.51h2.76v13.67h-2.76zM523.69 481.71h2.76v13.67h-2.76zM525.65 470.82h2.76v6.41h-2.76zM527.61 439.36h2.76v16.09h-2.76zM529.56 484.13h2.76v7.62h-2.76zM531.52 497.44h2.76v6.41h-2.76zM533.48 487.76h2.76v16.09h-2.76zM535.44 476.87h2.76v8.83h-2.76zM537.40 464.77h2.76v11.25h-2.76zM539.36 432.10h2.76v14.88h-2.76zM541.32 478.08h2.76v6.41h-2.76zM543.28 464.77h2.76v5.20h-2.76zM545.24 516.80h2.76v3.99h-2.76zM547.20 479.29h2.76v6.41h-2.76zM549.16 429.68h2.76v18.51h-2.76zM551.11 430.89h2.76v25.77h-2.76zM553.07 465.98h2.76v10.04h-2.76zM555.03 480.50h2.76v14.88h-2.76zM556.99 492.60h2.76v5.20h-2.76zM558.95 528.90h2.76v2.78h-2.76zM560.91 492.60h2.76v6.41h-2.76zM562.87 451.46h2.76v10.04h-2.76zM564.83 476.87h2.76v10.04h-2.76zM566.79 464.77h2.76v10.04h-2.76zM568.75 476.87h2.76v12.46h-2.76zM570.70 482.92h2.76v5.20h-2.76zM572.66 524.06h2.76v1.57h-2.76zM574.62 507.12h2.76v2.78h-2.76zM578.54 491.39h2.76v7.62h-2.76zM580.50 473.24h2.76v7.62h-2.76zM582.46 453.88h2.76v16.09h-2.76zM584.42 478.08h2.76v7.62h-2.76zM586.38 526.48h2.76v1.57h-2.76zM588.34 486.55h2.76v11.25h-2.76zM590.30 465.98h2.76v10.04h-2.76zM592.25 464.77h2.76v16.09h-2.76zM594.21 482.92h2.76v11.25h-2.76zM596.17 486.55h2.76v11.25h-2.76zM598.13 509.54h2.76v2.78h-2.76zM600.09 534.63h2.76v1.00h-2.76zM602.05 488.97h2.76v11.25h-2.76zM604.01 490.18h2.76v8.83h-2.76zM605.97 480.50h2.76v14.88h-2.76zM607.93 468.40h2.76v8.83h-2.76zM609.89 482.92h2.76v10.04h-2.76zM611.85 509.54h2.76v6.41h-2.76zM613.80 514.38h2.76v5.20h-2.76zM615.76 493.81h2.76v10.04h-2.76zM617.72 459.93h2.76v10.04h-2.76zM619.68 469.61h2.76v11.25h-2.76zM621.64 465.98h2.76v14.88h-2.76zM623.60 502.28h2.76v7.62h-2.76zM625.56 499.86h2.76v3.99h-2.76zM627.52 520.43h2.76v2.78h-2.76zM629.48 501.07h2.76v6.41h-2.76zM631.44 464.77h2.76v12.46h-2.76zM633.40 491.39h2.76v6.41h-2.76zM635.35 462.35h2.76v6.41h-2.76zM637.31 487.76h2.76v8.83h-2.76zM639.27 486.55h2.76v8.83h-2.76zM641.23 525.27h2.76v3.99h-2.76zM643.19 487.76h2.76v8.83h-2.76zM645.15 485.34h2.76v8.83h-2.76zM647.11 481.71h2.76v16.09h-2.76zM649.07 486.55h2.76v8.83h-2.76zM651.03 482.92h2.76v10.04h-2.76zM652.99 485.34h2.76v10.04h-2.76zM654.94 521.64h2.76v5.20h-2.76zM656.90 485.34h2.76v8.83h-2.76zM658.86 503.49h2.76v6.41h-2.76zM660.82 436.94h2.76v16.09h-2.76zM662.78 449.04h2.76v14.88h-2.76zM664.74 435.73h2.76v13.67h-2.76zM666.70 479.29h2.76v8.83h-2.76zM668.66 511.96h2.76v5.20h-2.76zM670.62 455.09h2.76v17.30h-2.76zM672.58 423.63h2.76v23.35h-2.76zM674.54 410.31h2.76v17.30h-2.76zM676.49 409.10h2.76v22.14h-2.76zM678.45 412.73h2.76v25.77h-2.76zM680.41 440.57h2.76v22.14h-2.76zM682.37 496.23h2.76v6.41h-2.76zM684.33 426.05h2.76v26.98h-2.76zM686.29 359.49h2.76v29.40h-2.76zM688.25 365.54h2.76v33.03h-2.76zM690.21 366.75h2.76v20.93h-2.76zM692.17 380.06h2.76v26.98h-2.76zM694.13 404.26h2.76v29.40h-2.76zM696.09 485.34h2.76v10.04h-2.76zM698.04 435.73h2.76v22.14h-2.76zM700.00 398.21h2.76v33.03h-2.76zM701.96 320.77h2.76v28.19h-2.76zM703.92 344.97h2.76v26.98h-2.76zM705.88 360.70h2.76v16.09h-2.76zM707.84 409.10h2.76v18.51h-2.76zM709.80 464.77h2.76v7.62h-2.76zM711.76 394.58h2.76v17.30h-2.76zM713.72 338.92h2.76v23.35h-2.76zM715.68 348.60h2.76v30.61h-2.76zM717.63 387.32h2.76v29.40h-2.76zM719.59 360.70h2.76v26.98h-2.76zM721.55 406.68h2.76v22.14h-2.76zM723.51 478.08h2.76v6.41h-2.76zM725.47 398.21h2.76v19.72h-2.76zM727.43 312.30h2.76v45.13h-2.76zM729.39 328.03h2.76v16.09h-2.76zM731.35 262.68h2.76v33.03h-2.76zM733.31 353.44h2.76v33.03h-2.76zM735.27 330.45h2.76v33.03h-2.76zM737.23 427.26h2.76v19.72h-2.76zM739.18 332.87h2.76v42.71h-2.76zM741.14 249.37h2.76v41.50h-2.76zM743.10 234.85h2.76v49.97h-2.76zM745.06 245.74h2.76v40.29h-2.76zM747.02 233.64h2.76v53.60h-2.76zM748.98 308.67h2.76v26.98h-2.76zM750.94 365.54h2.76v24.56h-2.76z"/>
<path fill="#3bcbdc" d="M165.18 541.89h2.76v1.11h-2.76zM174.97 541.89h2.76v1.11h-2.76zM180.85 541.89h2.76v1.11h-2.76zM184.77 541.89h2.76v1.11h-2.76zM200.44 538.26h2.76v1.00h-2.76zM210.24 539.79h2.76v1.57h-2.76zM214.16 538.26h2.76v1.00h-2.76zM221.99 538.26h2.76v1.00h-2.76zM223.95 534.95h2.76v1.57h-2.76zM231.79 531.32h2.76v1.57h-2.76zM233.75 524.06h2.76v1.57h-2.76zM235.70 520.43h2.76v1.57h-2.76zM237.66 516.80h2.76v3.99h-2.76zM239.62 520.43h2.76v1.57h-2.76zM241.58 519.22h2.76v2.78h-2.76zM243.54 539.47h2.76v1.00h-2.76zM245.50 528.90h2.76v1.57h-2.76zM247.46 488.97h2.76v7.62h-2.76zM249.42 515.59h2.76v3.99h-2.76zM251.38 492.60h2.76v10.04h-2.76zM253.34 464.77h2.76v6.41h-2.76zM255.30 515.59h2.76v2.78h-2.76zM257.25 530.11h2.76v1.57h-2.76zM259.21 525.27h2.76v1.57h-2.76zM261.17 508.33h2.76v2.78h-2.76zM263.13 488.97h2.76v7.62h-2.76zM265.09 509.54h2.76v6.41h-2.76zM267.05 503.49h2.76v2.78h-2.76zM269.01 516.80h2.76v1.57h-2.76zM270.97 529.79h2.76v1.00h-2.76zM272.93 532.21h2.76v1.00h-2.76zM274.89 520.43h2.76v1.57h-2.76zM276.85 510.75h2.76v2.78h-2.76zM278.80 514.38h2.76v1.57h-2.76zM280.76 515.59h2.76v1.57h-2.76zM282.72 527.69h2.76v1.57h-2.76zM284.68 538.26h2.76v1.00h-2.76zM286.64 534.63h2.76v1.00h-2.76zM288.60 518.01h2.76v2.78h-2.76zM290.56 520.43h2.76v2.78h-2.76zM292.52 527.37h2.76v1.00h-2.76zM294.48 509.54h2.76v3.99h-2.76zM296.44 522.85h2.76v1.57h-2.76zM298.40 534.95h2.76v2.78h-2.76zM300.35 531.32h2.76v1.57h-2.76zM310.15 531.00h2.76v1.00h-2.76zM314.07 530.11h2.76v1.57h-2.76zM316.03 536.16h2.76v2.78h-2.76zM317.99 514.38h2.76v1.57h-2.76zM319.94 528.90h2.76v1.57h-2.76zM321.90 532.53h2.76v3.99h-2.76zM327.78 537.05h2.76v1.00h-2.76zM329.74 524.95h2.76v1.00h-2.76zM331.70 531.00h2.76v1.00h-2.76zM341.49 540.68h2.76v1.00h-2.76zM343.45 539.47h2.76v1.00h-2.76zM345.41 535.84h2.76v1.00h-2.76zM347.37 537.05h2.76v1.00h-2.76zM351.29 538.26h2.76v1.00h-2.76zM359.13 538.26h2.76v1.00h-2.76zM361.09 538.26h2.76v1.00h-2.76zM368.92 541.89h2.76v1.11h-2.76zM394.39 541.89h2.76v1.11h-2.76zM406.14 537.05h2.76v1.00h-2.76zM410.06 508.01h2.76v1.00h-2.76zM412.02 538.58h2.76v1.57h-2.76zM415.94 515.27h2.76v1.00h-2.76zM417.90 518.90h2.76v1.00h-2.76zM421.82 529.79h2.76v1.00h-2.76zM423.78 534.63h2.76v1.00h-2.76zM425.73 518.90h2.76v1.00h-2.76zM427.69 515.27h2.76v1.00h-2.76zM429.65 505.59h2.76v1.00h-2.76zM431.61 504.70h2.76v1.57h-2.76zM433.57 516.48h2.76v1.00h-2.76zM435.53 524.95h2.76v1.00h-2.76zM437.49 514.38h2.76v1.57h-2.76zM439.45 493.81h2.76v1.57h-2.76zM441.41 491.39h2.76v3.99h-2.76zM443.37 495.02h2.76v1.57h-2.76zM445.32 487.76h2.76v1.57h-2.76zM447.28 509.22h2.76v1.00h-2.76zM449.24 531.32h2.76v1.57h-2.76zM451.20 511.64h2.76v1.00h-2.76zM453.16 468.40h2.76v1.57h-2.76zM455.12 484.13h2.76v2.78h-2.76zM457.08 512.85h2.76v1.00h-2.76zM459.04 522.53h2.76v1.00h-2.76zM461.00 506.80h2.76v1.00h-2.76zM462.96 527.37h2.76v1.00h-2.76zM464.92 504.70h2.76v1.57h-2.76zM466.87 463.56h2.76v1.57h-2.76zM468.83 458.72h2.76v7.62h-2.76zM470.79 485.34h2.76v3.99h-2.76zM472.75 480.50h2.76v3.99h-2.76zM474.71 465.98h2.76v6.41h-2.76zM476.67 490.18h2.76v1.57h-2.76zM478.63 445.41h2.76v11.25h-2.76zM480.59 456.30h2.76v7.62h-2.76zM482.55 415.15h2.76v8.83h-2.76zM484.51 428.47h2.76v7.62h-2.76zM486.47 413.94h2.76v11.25h-2.76zM488.42 456.30h2.76v8.83h-2.76zM490.38 507.12h2.76v2.78h-2.76zM492.34 487.76h2.76v2.78h-2.76zM494.30 470.82h2.76v3.99h-2.76zM496.26 413.94h2.76v16.09h-2.76zM498.22 413.94h2.76v5.20h-2.76zM500.18 399.42h2.76v11.25h-2.76zM502.14 459.93h2.76v7.62h-2.76zM504.10 488.97h2.76v3.99h-2.76zM506.06 453.88h2.76v7.62h-2.76zM508.01 441.78h2.76v7.62h-2.76zM509.97 432.10h2.76v12.46h-2.76zM511.93 457.51h2.76v5.20h-2.76zM513.89 434.52h2.76v12.46h-2.76zM515.85 491.39h2.76v6.41h-2.76zM517.81 501.07h2.76v3.99h-2.76zM519.77 484.13h2.76v5.20h-2.76zM521.73 452.67h2.76v3.99h-2.76zM523.69 472.03h2.76v8.83h-2.76zM525.65 465.98h2.76v3.99h-2.76zM527.61 430.89h2.76v7.62h-2.76zM529.56 476.87h2.76v6.41h-2.76zM531.52 492.60h2.76v3.99h-2.76zM533.48 481.71h2.76v5.20h-2.76zM535.44 465.98h2.76v10.04h-2.76zM537.40 458.72h2.76v5.20h-2.76zM539.36 421.20h2.76v10.04h-2.76zM541.32 470.82h2.76v6.41h-2.76zM543.28 456.30h2.76v7.62h-2.76zM545.24 514.38h2.76v1.57h-2.76zM547.20 474.45h2.76v3.99h-2.76zM549.16 426.05h2.76v2.78h-2.76zM551.11 422.41h2.76v7.62h-2.76zM553.07 458.72h2.76v6.41h-2.76zM555.03 473.24h2.76v6.41h-2.76zM556.99 487.76h2.76v3.99h-2.76zM558.95 527.37h2.76v1.00h-2.76zM560.91 488.97h2.76v2.78h-2.76zM562.87 441.78h2.76v8.83h-2.76zM564.83 473.24h2.76v2.78h-2.76zM566.79 459.93h2.76v3.99h-2.76zM568.75 470.82h2.76v5.20h-2.76zM570.70 476.87h2.76v5.20h-2.76zM572.66 522.53h2.76v1.00h-2.76zM574.62 504.70h2.76v1.57h-2.76zM576.58 532.21h2.76v1.00h-2.76zM578.54 484.13h2.76v6.41h-2.76zM580.50 459.93h2.76v12.46h-2.76zM582.46 445.41h2.76v7.62h-2.76zM584.42 473.24h2.76v3.99h-2.76zM586.38 524.95h2.76v1.00h-2.76zM588.34 481.71h2.76v3.99h-2.76zM590.30 457.51h2.76v7.62h-2.76zM592.25 459.93h2.76v3.99h-2.76zM594.21 474.45h2.76v7.62h-2.76zM596.17 481.71h2.76v3.99h-2.76zM598.13 504.70h2.76v3.99h-2.76zM600.09 532.53h2.76v1.57h-2.76zM602.05 478.08h2.76v10.04h-2.76zM604.01 484.13h2.76v5.20h-2.76zM605.97 472.03h2.76v7.62h-2.76zM607.93 459.93h2.76v7.62h-2.76zM609.89 475.66h2.76v6.41h-2.76zM611.85 504.70h2.76v3.99h-2.76zM613.80 511.96h2.76v1.57h-2.76zM615.76 487.76h2.76v5.20h-2.76zM617.72 452.67h2.76v6.41h-2.76zM619.68 461.14h2.76v7.62h-2.76zM621.64 457.51h2.76v7.62h-2.76zM623.60 493.81h2.76v7.62h-2.76zM625.56 493.81h2.76v5.20h-2.76zM627.52 518.90h2.76v1.00h-2.76zM629.48 495.02h2.76v5.20h-2.76zM631.44 455.09h2.76v8.83h-2.76zM633.40 484.13h2.76v6.41h-2.76zM635.35 453.88h2.76v7.62h-2.76zM637.31 481.71h2.76v5.20h-2.76zM639.27 480.50h2.76v5.20h-2.76zM641.23 521.64h2.76v2.78h-2.76zM643.19 479.29h2.76v7.62h-2.76zM645.15 478.08h2.76v6.41h-2.76zM647.11 472.03h2.76v8.83h-2.76zM649.07 481.71h2.76v3.99h-2.76zM651.03 476.87h2.76v5.20h-2.76zM652.99 480.50h2.76v3.99h-2.76zM654.94 519.22h2.76v1.57h-2.76zM656.90 476.87h2.76v7.62h-2.76zM658.86 499.86h2.76v2.78h-2.76zM660.82 428.47h2.76v7.62h-2.76zM662.78 438.15h2.76v10.04h-2.76zM664.74 406.68h2.76v28.19h-2.76zM666.70 469.61h2.76v8.83h-2.76zM668.66 509.54h2.76v1.57h-2.76zM670.62 445.41h2.76v8.83h-2.76zM672.58 411.52h2.76v11.25h-2.76zM674.54 399.42h2.76v10.04h-2.76zM676.49 394.58h2.76v13.67h-2.76zM678.45 399.42h2.76v12.46h-2.76zM680.41 427.26h2.76v12.46h-2.76zM682.37 488.97h2.76v6.41h-2.76zM684.33 415.15h2.76v10.04h-2.76zM686.29 335.29h2.76v23.35h-2.76zM688.25 346.18h2.76v18.51h-2.76zM690.21 341.34h2.76v24.56h-2.76zM692.17 351.02h2.76v28.19h-2.76zM694.13 390.95h2.76v12.46h-2.76zM696.09 476.87h2.76v7.62h-2.76zM698.04 423.63h2.76v11.25h-2.76zM700.00 381.27h2.76v16.09h-2.76zM701.96 290.51h2.76v29.40h-2.76zM703.92 323.19h2.76v20.93h-2.76zM705.88 347.39h2.76v12.46h-2.76zM707.84 390.95h2.76v17.30h-2.76zM709.80 456.30h2.76v7.62h-2.76zM711.76 380.06h2.76v13.67h-2.76zM713.72 328.03h2.76v10.04h-2.76zM715.68 332.87h2.76v14.88h-2.76zM717.63 361.91h2.76v24.56h-2.76zM719.59 342.55h2.76v17.30h-2.76zM721.55 398.21h2.76v7.62h-2.76zM723.51 475.66h2.76v1.57h-2.76zM725.47 383.69h2.76v13.67h-2.76zM727.43 284.46h2.76v26.98h-2.76zM729.39 319.56h2.76v7.62h-2.76zM731.35 243.32h2.76v18.51h-2.76zM733.31 325.61h2.76v26.98h-2.76zM735.27 314.72h2.76v14.88h-2.76zM737.23 418.78h2.76v7.62h-2.76zM739.18 314.72h2.76v17.30h-2.76zM741.14 231.22h2.76v17.30h-2.76zM743.10 209.44h2.76v24.56h-2.76zM745.06 227.59h2.76v17.30h-2.76zM747.02 219.12h2.76v13.67h-2.76zM748.98 285.67h2.76v22.14h-2.76zM750.94 348.60h2.76v16.09h-2.76z"/>
<path fill="#3572cf" d="M149.51 540.68h2.76v1.00h-2.76zM153.42 541.89h2.76v1.11h-2.76zM169.10 541.89h2.76v1.11h-2.76zM182.81 538.58h2.76v1.57h-2.76zM192.61 539.47h2.76v1.00h-2.76zM196.52 540.68h2.76v1.00h-2.76zM198.48 541.89h2.76v1.11h-2.76zM200.44 537.05h2.76v1.00h-2.76zM202.40 540.68h2.76v1.00h-2.76zM212.20 539.47h2.76v1.00h-2.76zM216.11 539.47h2.76v1.00h-2.76zM220.03 539.47h2.76v1.00h-2.76zM223.95 532.53h2.76v1.57h-2.76zM225.91 532.53h2.76v1.57h-2.76zM227.87 535.84h2.76v1.00h-2.76zM231.79 528.90h2.76v1.57h-2.76zM233.75 522.53h2.76v1.00h-2.76zM235.70 516.80h2.76v2.78h-2.76zM237.66 510.75h2.76v5.20h-2.76zM239.62 518.01h2.76v1.57h-2.76zM241.58 514.38h2.76v3.99h-2.76zM243.54 538.26h2.76v1.00h-2.76zM245.50 525.27h2.76v2.78h-2.76zM247.46 478.08h2.76v10.04h-2.76zM249.42 513.17h2.76v1.57h-2.76zM251.38 485.34h2.76v6.41h-2.76zM253.34 458.72h2.76v5.20h-2.76zM255.30 513.17h2.76v1.57h-2.76zM257.25 527.69h2.76v1.57h-2.76zM259.21 523.74h2.76v1.00h-2.76zM261.17 504.70h2.76v2.78h-2.76zM263.13 482.92h2.76v5.20h-2.76zM265.09 505.91h2.76v2.78h-2.76zM267.05 498.65h2.76v3.99h-2.76zM269.01 513.17h2.76v2.78h-2.76zM270.97 527.69h2.76v1.57h-2.76zM272.93 530.11h2.76v1.57h-2.76zM274.89 518.01h2.76v1.57h-2.76zM276.85 502.28h2.76v7.62h-2.76zM278.80 509.54h2.76v3.99h-2.76zM280.76 511.96h2.76v2.78h-2.76zM282.72 525.27h2.76v1.57h-2.76zM286.64 532.53h2.76v1.57h-2.76zM288.60 515.59h2.76v1.57h-2.76zM290.56 515.59h2.76v3.99h-2.76zM292.52 526.16h2.76v1.00h-2.76zM294.48 503.49h2.76v5.20h-2.76zM296.44 520.43h2.76v1.57h-2.76zM298.40 532.53h2.76v1.57h-2.76zM300.35 529.79h2.76v1.00h-2.76zM302.31 537.05h2.76v1.00h-2.76zM304.27 531.32h2.76v1.57h-2.76zM306.23 538.26h2.76v1.00h-2.76zM310.15 529.79h2.76v1.00h-2.76zM312.11 538.58h2.76v1.57h-2.76zM314.07 528.58h2.76v1.00h-2.76zM316.03 533.74h2.76v1.57h-2.76zM317.99 509.54h2.76v3.99h-2.76zM319.94 526.48h2.76v1.57h-2.76zM321.90 531.00h2.76v1.00h-2.76zM323.86 538.58h2.76v1.57h-2.76zM325.82 536.16h2.76v1.57h-2.76zM327.78 535.84h2.76v1.00h-2.76zM329.74 523.74h2.76v1.00h-2.76zM331.70 529.79h2.76v1.00h-2.76zM333.66 536.16h2.76v1.57h-2.76zM345.41 534.63h2.76v1.00h-2.76zM347.37 535.84h2.76v1.00h-2.76zM357.17 541.89h2.76v1.11h-2.76zM363.04 540.68h2.76v1.00h-2.76zM382.63 541.89h2.76v1.11h-2.76zM390.47 539.47h2.76v1.00h-2.76zM406.14 534.95h2.76v1.57h-2.76zM410.06 506.80h2.76v1.00h-2.76zM419.86 520.11h2.76v1.00h-2.76zM425.73 517.69h2.76v1.00h-2.76zM427.69 514.06h2.76v1.00h-2.76zM429.65 504.38h2.76v1.00h-2.76zM431.61 503.17h2.76v1.00h-2.76zM433.57 515.27h2.76v1.00h-2.76zM437.49 512.85h2.76v1.00h-2.76zM439.45 492.28h2.76v1.00h-2.76zM441.41 488.97h2.76v1.57h-2.76zM443.37 492.60h2.76v1.57h-2.76zM445.32 485.34h2.76v1.57h-2.76zM447.28 508.01h2.76v1.00h-2.76zM451.20 510.43h2.76v1.00h-2.76zM453.16 464.77h2.76v2.78h-2.76zM455.12 481.71h2.76v1.57h-2.76zM457.08 511.64h2.76v1.00h-2.76zM459.04 521.32h2.76v1.00h-2.76zM461.00 505.59h2.76v1.00h-2.76zM462.96 526.16h2.76v1.00h-2.76zM464.92 503.17h2.76v1.00h-2.76zM466.87 461.14h2.76v1.57h-2.76zM468.83 455.09h2.76v2.78h-2.76zM470.79 482.92h2.76v1.57h-2.76zM472.75 476.87h2.76v2.78h-2.76zM474.71 462.35h2.76v2.78h-2.76zM476.67 488.65h2.76v1.00h-2.76zM478.63 441.78h2.76v2.78h-2.76zM480.59 452.67h2.76v2.78h-2.76zM482.55 411.52h2.76v2.78h-2.76zM484.51 423.63h2.76v3.99h-2.76zM486.47 407.89h2.76v5.20h-2.76zM488.42 450.25h2.76v5.20h-2.76zM490.38 502.28h2.76v3.99h-2.76zM492.34 485.34h2.76v1.57h-2.76zM494.30 467.19h2.76v2.78h-2.76zM496.26 405.47h2.76v7.62h-2.76zM498.22 409.10h2.76v3.99h-2.76zM500.18 392.16h2.76v6.41h-2.76zM502.14 456.30h2.76v2.78h-2.76zM504.10 486.55h2.76v1.57h-2.76zM506.06 447.83h2.76v5.20h-2.76zM508.01 438.15h2.76v2.78h-2.76zM509.97 424.84h2.76v6.41h-2.76zM511.93 452.67h2.76v3.99h-2.76zM513.89 428.47h2.76v5.20h-2.76zM515.85 487.76h2.76v2.78h-2.76zM517.81 499.54h2.76v1.00h-2.76zM519.77 480.50h2.76v2.78h-2.76zM521.73 447.83h2.76v3.99h-2.76zM523.69 468.40h2.76v2.78h-2.76zM525.65 459.93h2.76v5.20h-2.76zM527.61 423.63h2.76v6.41h-2.76zM529.56 472.03h2.76v3.99h-2.76zM531.52 488.97h2.76v2.78h-2.76zM533.48 478.08h2.76v2.78h-2.76zM535.44 458.72h2.76v6.41h-2.76zM537.40 451.46h2.76v6.41h-2.76zM539.36 417.57h2.76v2.78h-2.76zM541.32 467.19h2.76v2.78h-2.76zM543.28 453.88h2.76v1.57h-2.76zM545.24 511.96h2.76v1.57h-2.76zM547.20 472.03h2.76v1.57h-2.76zM549.16 422.42h2.76v2.78h-2.76zM551.11 413.94h2.76v7.62h-2.76zM553.07 450.25h2.76v7.62h-2.76zM555.03 468.40h2.76v3.99h-2.76zM556.99 485.34h2.76v1.57h-2.76zM558.95 526.16h2.76v1.00h-2.76zM560.91 485.34h2.76v2.78h-2.76zM562.87 433.31h2.76v7.62h-2.76zM564.83 468.40h2.76v3.99h-2.76zM566.79 455.09h2.76v3.99h-2.76zM568.75 463.56h2.76v6.41h-2.76zM570.70 474.45h2.76v1.57h-2.76zM572.66 521.32h2.76v1.00h-2.76zM574.62 502.28h2.76v1.57h-2.76zM576.58 530.11h2.76v1.57h-2.76zM578.54 479.29h2.76v3.99h-2.76zM580.50 456.30h2.76v2.78h-2.76zM582.46 439.36h2.76v5.20h-2.76zM584.42 469.61h2.76v2.78h-2.76zM586.38 523.74h2.76v1.00h-2.76zM588.34 479.29h2.76v1.57h-2.76zM590.30 453.88h2.76v2.78h-2.76zM592.25 453.88h2.76v5.20h-2.76zM594.21 468.40h2.76v5.20h-2.76zM596.17 479.29h2.76v1.57h-2.76zM598.13 502.28h2.76v1.57h-2.76zM600.09 531.00h2.76v1.00h-2.76zM602.05 470.82h2.76v6.41h-2.76zM604.01 480.50h2.76v2.78h-2.76zM605.97 469.61h2.76v1.57h-2.76zM607.93 455.09h2.76v3.99h-2.76zM609.89 473.24h2.76v1.57h-2.76zM611.85 502.28h2.76v1.57h-2.76zM613.80 510.43h2.76v1.00h-2.76zM615.76 482.92h2.76v3.99h-2.76zM617.72 444.20h2.76v7.62h-2.76zM619.68 456.30h2.76v3.99h-2.76zM621.64 450.25h2.76v6.41h-2.76zM623.60 491.39h2.76v1.57h-2.76zM625.56 488.97h2.76v3.99h-2.76zM627.52 517.69h2.76v1.00h-2.76zM629.48 491.39h2.76v2.78h-2.76zM631.44 446.62h2.76v7.62h-2.76zM633.40 480.50h2.76v2.78h-2.76zM635.35 445.41h2.76v7.62h-2.76zM637.31 478.08h2.76v2.78h-2.76zM639.27 475.66h2.76v3.99h-2.76zM641.23 519.22h2.76v1.57h-2.76zM643.19 472.03h2.76v6.41h-2.76zM645.15 474.45h2.76v2.78h-2.76zM647.11 467.19h2.76v3.99h-2.76zM649.07 474.45h2.76v6.41h-2.76zM651.03 469.61h2.76v6.41h-2.76zM652.99 473.24h2.76v6.41h-2.76zM654.94 517.69h2.76v1.00h-2.76zM656.90 470.82h2.76v5.20h-2.76zM658.86 496.23h2.76v2.78h-2.76zM660.82 421.20h2.76v6.41h-2.76zM662.78 427.26h2.76v10.04h-2.76zM664.74 392.16h2.76v13.67h-2.76zM666.70 462.35h2.76v6.41h-2.76zM668.66 504.70h2.76v3.99h-2.76zM670.62 436.94h2.76v7.62h-2.76zM672.58 401.84h2.76v8.83h-2.76zM674.54 389.74h2.76v8.83h-2.76zM676.49 384.90h2.76v8.83h-2.76zM678.45 390.95h2.76v7.62h-2.76zM680.41 417.57h2.76v8.83h-2.76zM682.37 480.50h2.76v7.62h-2.76zM684.33 399.42h2.76v14.88h-2.76zM686.29 303.83h2.76v30.61h-2.76zM688.25 325.61h2.76v19.72h-2.76zM690.21 313.51h2.76v26.98h-2.76zM692.17 329.24h2.76v20.93h-2.76zM694.13 375.22h2.76v14.88h-2.76zM696.09 469.61h2.76v6.41h-2.76zM698.04 410.31h2.76v12.46h-2.76zM700.00 363.12h2.76v17.30h-2.76zM701.96 260.26h2.76v29.40h-2.76zM703.92 302.62h2.76v19.72h-2.76zM705.88 335.29h2.76v11.25h-2.76zM707.84 378.85h2.76v11.25h-2.76zM709.80 449.04h2.76v6.41h-2.76zM711.76 365.54h2.76v13.67h-2.76zM713.72 307.46h2.76v19.72h-2.76zM715.68 317.14h2.76v14.88h-2.76zM717.63 344.97h2.76v16.09h-2.76zM719.59 332.87h2.76v8.83h-2.76zM721.55 388.53h2.76v8.83h-2.76zM723.51 469.61h2.76v5.20h-2.76zM725.47 376.43h2.76v6.41h-2.76zM727.43 265.10h2.76v18.51h-2.76zM729.39 307.46h2.76v11.25h-2.76zM731.35 230.01h2.76v12.46h-2.76zM733.31 311.09h2.76v13.67h-2.76zM735.27 286.88h2.76v26.98h-2.76zM737.23 410.31h2.76v7.62h-2.76zM739.18 292.93h2.76v20.93h-2.76zM741.14 216.70h2.76v13.67h-2.76zM743.10 184.03h2.76v24.56h-2.76zM745.06 207.02h2.76v19.72h-2.76zM747.02 200.97h2.76v17.30h-2.76zM748.98 273.57h2.76v11.25h-2.76zM750.94 331.66h2.76v16.09h-2.76z"/>
<path fill="#3831bc" d="M139.71 541.89h2.76v1.11h-2.76zM151.47 541.89h2.76v1.11h-2.76zM180.85 540.68h2.76v1.00h-2.76zM204.36 539.47h2.76v1.00h-2.76zM208.28 538.26h2.76v1.00h-2.76zM218.07 537.05h2.76v1.00h-2.76zM223.95 531.00h2.76v1.00h-2.76zM225.91 530.11h2.76v1.57h-2.76zM231.79 527.37h2.76v1.00h-2.76zM233.75 521.32h2.76v1.00h-2.76zM235.70 515.27h2.76v1.00h-2.76zM237.66 508.33h2.76v1.57h-2.76zM239.62 515.59h2.76v1.57h-2.76zM241.58 512.85h2.76v1.00h-2.76zM243.54 537.05h2.76v1.00h-2.76zM245.50 523.74h2.76v1.00h-2.76zM247.46 470.82h2.76v6.41h-2.76zM249.42 510.75h2.76v1.57h-2.76zM251.38 480.50h2.76v3.99h-2.76zM253.34 455.09h2.76v2.78h-2.76zM255.30 508.33h2.76v3.99h-2.76zM257.25 526.16h2.76v1.00h-2.76zM259.21 520.43h2.76v2.78h-2.76zM261.17 498.65h2.76v5.20h-2.76zM263.13 479.29h2.76v2.78h-2.76zM265.09 503.49h2.76v1.57h-2.76zM267.05 493.81h2.76v3.99h-2.76zM269.01 510.75h2.76v1.57h-2.76zM270.97 526.16h2.76v1.00h-2.76zM272.93 528.58h2.76v1.00h-2.76zM274.89 515.59h2.76v1.57h-2.76zM276.85 499.86h2.76v1.57h-2.76zM278.80 507.12h2.76v1.57h-2.76zM280.76 508.33h2.76v2.78h-2.76zM282.72 523.74h2.76v1.00h-2.76zM284.68 537.05h2.76v1.00h-2.76zM286.64 531.00h2.76v1.00h-2.76zM288.60 513.17h2.76v1.57h-2.76zM290.56 514.06h2.76v1.00h-2.76zM292.52 524.95h2.76v1.00h-2.76zM294.48 501.07h2.76v1.57h-2.76zM296.44 518.01h2.76v1.57h-2.76zM300.35 528.58h2.76v1.00h-2.76zM302.31 535.84h2.76v1.00h-2.76zM304.27 529.79h2.76v1.00h-2.76zM306.23 536.16h2.76v1.57h-2.76zM310.15 528.58h2.76v1.00h-2.76zM312.11 537.05h2.76v1.00h-2.76zM314.07 527.37h2.76v1.00h-2.76zM316.03 532.21h2.76v1.00h-2.76zM317.99 507.12h2.76v1.57h-2.76zM319.94 524.95h2.76v1.00h-2.76zM321.90 529.79h2.76v1.00h-2.76zM325.82 534.63h2.76v1.00h-2.76zM329.74 522.53h2.76v1.00h-2.76zM331.70 528.58h2.76v1.00h-2.76zM347.37 534.63h2.76v1.00h-2.76zM349.33 540.68h2.76v1.00h-2.76zM359.13 537.05h2.76v1.00h-2.76zM402.23 537.05h2.76v1.00h-2.76zM410.06 505.59h2.76v1.00h-2.76zM425.73 516.48h2.76v1.00h-2.76zM427.69 512.85h2.76v1.00h-2.76zM433.57 514.06h2.76v1.00h-2.76zM439.45 491.07h2.76v1.00h-2.76zM441.41 487.44h2.76v1.00h-2.76zM443.37 491.07h2.76v1.00h-2.76zM445.32 483.81h2.76v1.00h-2.76zM449.24 529.79h2.76v1.00h-2.76zM451.20 509.22h2.76v1.00h-2.76zM453.16 463.24h2.76v1.00h-2.76zM455.12 480.18h2.76v1.00h-2.76zM457.08 510.43h2.76v1.00h-2.76zM466.87 459.61h2.76v1.00h-2.76zM468.83 452.67h2.76v1.57h-2.76zM470.79 480.50h2.76v1.57h-2.76zM472.75 474.45h2.76v1.57h-2.76zM474.71 458.72h2.76v2.78h-2.76zM476.67 486.55h2.76v1.57h-2.76zM478.63 438.15h2.76v2.78h-2.76zM480.59 449.04h2.76v2.78h-2.76zM482.55 403.05h2.76v7.62h-2.76zM484.51 417.57h2.76v5.20h-2.76zM486.47 393.37h2.76v13.67h-2.76zM488.42 447.83h2.76v1.57h-2.76zM490.38 500.75h2.76v1.00h-2.76zM492.34 482.92h2.76v1.57h-2.76zM494.30 464.77h2.76v1.57h-2.76zM496.26 399.42h2.76v5.20h-2.76zM498.22 406.68h2.76v1.57h-2.76zM500.18 382.48h2.76v8.83h-2.76zM502.14 450.25h2.76v5.20h-2.76zM504.10 484.13h2.76v1.57h-2.76zM506.06 444.20h2.76v2.78h-2.76zM508.01 430.89h2.76v6.41h-2.76zM509.97 421.20h2.76v2.78h-2.76zM511.93 447.83h2.76v3.99h-2.76zM513.89 424.84h2.76v2.78h-2.76zM515.85 485.34h2.76v1.57h-2.76zM517.81 498.33h2.76v1.00h-2.76zM519.77 478.08h2.76v1.57h-2.76zM521.73 444.20h2.76v2.78h-2.76zM523.69 465.98h2.76v1.57h-2.76zM525.65 455.09h2.76v3.99h-2.76zM527.61 418.78h2.76v3.99h-2.76zM529.56 469.61h2.76v1.57h-2.76zM531.52 485.34h2.76v2.78h-2.76zM533.48 474.45h2.76v2.78h-2.76zM535.44 453.88h2.76v3.99h-2.76zM537.40 447.83h2.76v2.78h-2.76zM539.36 415.15h2.76v1.57h-2.76zM541.32 464.77h2.76v1.57h-2.76zM543.28 450.25h2.76v2.78h-2.76zM545.24 510.43h2.76v1.00h-2.76zM547.20 468.40h2.76v2.78h-2.76zM549.16 417.57h2.76v3.99h-2.76zM551.11 410.31h2.76v2.78h-2.76zM553.07 446.62h2.76v2.78h-2.76zM555.03 464.77h2.76v2.78h-2.76zM556.99 481.71h2.76v2.78h-2.76zM558.95 524.95h2.76v1.00h-2.76zM560.91 482.92h2.76v1.57h-2.76zM562.87 424.84h2.76v7.62h-2.76zM564.83 466.87h2.76v1.00h-2.76zM566.79 452.67h2.76v1.57h-2.76zM568.75 461.14h2.76v1.57h-2.76zM570.70 472.92h2.76v1.00h-2.76zM572.66 520.11h2.76v1.00h-2.76zM574.62 499.86h2.76v1.57h-2.76zM578.54 474.45h2.76v3.99h-2.76zM580.50 451.46h2.76v3.99h-2.76zM582.46 436.94h2.76v1.57h-2.76zM584.42 467.19h2.76v1.57h-2.76zM586.38 522.53h2.76v1.00h-2.76zM588.34 476.87h2.76v1.57h-2.76zM590.30 450.25h2.76v2.78h-2.76zM592.25 451.46h2.76v1.57h-2.76zM594.21 465.98h2.76v1.57h-2.76zM596.17 474.45h2.76v3.99h-2.76zM598.13 499.86h2.76v1.57h-2.76zM600.09 529.79h2.76v1.00h-2.76zM602.05 467.19h2.76v2.78h-2.76zM604.01 476.87h2.76v2.78h-2.76zM605.97 467.19h2.76v1.57h-2.76zM607.93 451.46h2.76v2.78h-2.76zM609.89 470.82h2.76v1.57h-2.76zM611.85 500.75h2.76v1.00h-2.76zM613.80 509.22h2.76v1.00h-2.76zM615.76 480.50h2.76v1.57h-2.76zM617.72 440.57h2.76v2.78h-2.76zM619.68 450.25h2.76v5.20h-2.76zM621.64 444.20h2.76v5.20h-2.76zM623.60 486.55h2.76v3.99h-2.76zM625.56 486.55h2.76v1.57h-2.76zM627.52 516.48h2.76v1.00h-2.76zM629.48 487.76h2.76v2.78h-2.76zM631.44 439.36h2.76v6.41h-2.76zM633.40 478.08h2.76v1.57h-2.76zM635.35 438.15h2.76v6.41h-2.76zM637.31 474.45h2.76v2.78h-2.76zM639.27 473.24h2.76v1.57h-2.76zM641.23 517.69h2.76v1.00h-2.76zM643.19 468.40h2.76v2.78h-2.76zM645.15 469.61h2.76v3.99h-2.76zM647.11 461.14h2.76v5.20h-2.76zM649.07 470.82h2.76v2.78h-2.76zM651.03 467.19h2.76v1.57h-2.76zM652.99 468.40h2.76v3.99h-2.76zM654.94 516.48h2.76v1.00h-2.76zM656.90 465.98h2.76v3.99h-2.76zM658.86 493.81h2.76v1.57h-2.76zM660.82 412.73h2.76v7.62h-2.76zM662.78 421.20h2.76v5.20h-2.76zM664.74 381.27h2.76v10.04h-2.76zM666.70 452.67h2.76v8.83h-2.76zM668.66 501.07h2.76v2.78h-2.76zM670.62 427.26h2.76v8.83h-2.76zM672.58 393.37h2.76v7.62h-2.76zM674.54 371.59h2.76v17.30h-2.76zM676.49 376.43h2.76v7.62h-2.76zM678.45 370.38h2.76v19.72h-2.76zM680.41 409.10h2.76v7.62h-2.76zM682.37 473.24h2.76v6.41h-2.76zM684.33 389.74h2.76v8.83h-2.76zM686.29 278.41h2.76v24.56h-2.76zM688.25 302.62h2.76v22.14h-2.76zM690.21 298.98h2.76v13.67h-2.76zM692.17 315.93h2.76v12.46h-2.76zM694.13 353.44h2.76v20.93h-2.76zM696.09 462.35h2.76v6.41h-2.76zM698.04 400.63h2.76v8.83h-2.76zM700.00 357.07h2.76v5.20h-2.76zM701.96 243.32h2.76v16.09h-2.76zM703.92 285.67h2.76v16.09h-2.76zM705.88 329.24h2.76v5.20h-2.76zM707.84 369.17h2.76v8.83h-2.76zM709.80 445.41h2.76v2.78h-2.76zM711.76 358.28h2.76v6.41h-2.76zM713.72 291.72h2.76v14.88h-2.76zM715.68 308.67h2.76v7.62h-2.76zM717.63 326.82h2.76v17.30h-2.76zM719.59 320.77h2.76v11.25h-2.76zM721.55 383.69h2.76v3.99h-2.76zM723.51 465.98h2.76v2.78h-2.76zM725.47 364.33h2.76v11.25h-2.76zM727.43 254.21h2.76v10.04h-2.76zM729.39 292.93h2.76v13.67h-2.76zM731.35 207.02h2.76v22.14h-2.76zM733.31 279.62h2.76v30.61h-2.76zM735.27 269.94h2.76v16.09h-2.76zM737.23 400.63h2.76v8.83h-2.76zM739.18 279.62h2.76v12.46h-2.76zM741.14 202.18h2.76v13.67h-2.76zM743.10 164.66h2.76v18.51h-2.76zM745.06 196.13h2.76v10.04h-2.76zM747.02 179.18h2.76v20.93h-2.76zM748.98 261.47h2.76v11.25h-2.76zM750.94 323.19h2.76v7.62h-2.76z"/>
<path fill="#6c2ea6" d="M221.99 537.05h2.76v1.00h-2.76zM223.95 529.79h2.76v1.00h-2.76zM227.87 534.63h2.76v1.00h-2.76zM231.79 526.16h2.76v1.00h-2.76zM233.75 520.11h2.76v1.00h-2.76zM235.70 514.06h2.76v1.00h-2.76zM237.66 506.80h2.76v1.00h-2.76zM239.62 514.06h2.76v1.00h-2.76zM241.58 511.64h2.76v1.00h-2.76zM245.50 522.53h2.76v1.00h-2.76zM247.46 465.98h2.76v3.99h-2.76zM249.42 509.22h2.76v1.00h-2.76zM251.38 478.08h2.76v1.57h-2.76zM253.34 451.46h2.76v2.78h-2.76zM255.30 505.91h2.76v1.57h-2.76zM257.25 524.95h2.76v1.00h-2.76zM259.21 518.90h2.76v1.00h-2.76zM261.17 496.23h2.76v1.57h-2.76zM263.13 476.87h2.76v1.57h-2.76zM265.09 501.96h2.76v1.00h-2.76zM267.05 491.39h2.76v1.57h-2.76zM269.01 508.33h2.76v1.57h-2.76zM270.97 524.95h2.76v1.00h-2.76zM272.93 527.37h2.76v1.00h-2.76zM274.89 514.06h2.76v1.00h-2.76zM276.85 497.44h2.76v1.57h-2.76zM278.80 505.59h2.76v1.00h-2.76zM280.76 506.80h2.76v1.00h-2.76zM284.68 535.84h2.76v1.00h-2.76zM290.56 512.85h2.76v1.00h-2.76zM294.48 499.54h2.76v1.00h-2.76zM296.44 516.48h2.76v1.00h-2.76zM298.40 531.00h2.76v1.00h-2.76zM300.35 527.37h2.76v1.00h-2.76zM304.27 528.58h2.76v1.00h-2.76zM310.15 527.37h2.76v1.00h-2.76zM314.07 526.16h2.76v1.00h-2.76zM317.99 504.70h2.76v1.57h-2.76zM321.90 528.58h2.76v1.00h-2.76zM327.78 534.63h2.76v1.00h-2.76zM329.74 521.32h2.76v1.00h-2.76zM331.70 527.37h2.76v1.00h-2.76zM337.58 538.26h2.76v1.00h-2.76zM347.37 532.53h2.76v1.57h-2.76zM351.29 537.05h2.76v1.00h-2.76zM390.47 538.26h2.76v1.00h-2.76zM451.20 508.01h2.76v1.00h-2.76zM453.16 462.03h2.76v1.00h-2.76zM466.87 458.40h2.76v1.00h-2.76zM468.83 451.14h2.76v1.00h-2.76zM470.79 478.97h2.76v1.00h-2.76zM472.75 472.92h2.76v1.00h-2.76zM474.71 457.19h2.76v1.00h-2.76zM476.67 485.02h2.76v1.00h-2.76zM478.63 435.73h2.76v1.57h-2.76zM480.59 446.62h2.76v1.57h-2.76zM482.55 401.52h2.76v1.00h-2.76zM484.51 415.15h2.76v1.57h-2.76zM486.47 389.74h2.76v2.78h-2.76zM488.42 445.41h2.76v1.57h-2.76zM490.38 499.54h2.76v1.00h-2.76zM492.34 481.39h2.76v1.00h-2.76zM494.30 463.24h2.76v1.00h-2.76zM496.26 394.58h2.76v3.99h-2.76zM498.22 404.26h2.76v1.57h-2.76zM500.18 380.06h2.76v1.57h-2.76zM502.14 448.72h2.76v1.00h-2.76zM504.10 482.60h2.76v1.00h-2.76zM506.06 442.67h2.76v1.00h-2.76zM508.01 428.47h2.76v1.57h-2.76zM509.97 417.57h2.76v2.78h-2.76zM511.93 445.41h2.76v1.57h-2.76zM513.89 422.42h2.76v1.57h-2.76zM515.85 483.81h2.76v1.00h-2.76zM517.81 497.12h2.76v1.00h-2.76zM519.77 476.55h2.76v1.00h-2.76zM521.73 441.78h2.76v1.57h-2.76zM523.69 464.45h2.76v1.00h-2.76zM525.65 452.67h2.76v1.57h-2.76zM527.61 416.36h2.76v1.57h-2.76zM529.56 467.19h2.76v1.57h-2.76zM531.52 483.81h2.76v1.00h-2.76zM533.48 472.92h2.76v1.00h-2.76zM535.44 452.35h2.76v1.00h-2.76zM537.40 446.30h2.76v1.00h-2.76zM539.36 413.62h2.76v1.00h-2.76zM541.32 463.24h2.76v1.00h-2.76zM543.28 448.72h2.76v1.00h-2.76zM545.24 509.22h2.76v1.00h-2.76zM547.20 466.87h2.76v1.00h-2.76zM549.16 416.04h2.76v1.00h-2.76zM551.11 408.78h2.76v1.00h-2.76zM553.07 445.09h2.76v1.00h-2.76zM555.03 463.24h2.76v1.00h-2.76zM556.99 480.18h2.76v1.00h-2.76zM560.91 481.39h2.76v1.00h-2.76zM562.87 422.42h2.76v1.57h-2.76zM564.83 465.66h2.76v1.00h-2.76zM566.79 450.25h2.76v1.57h-2.76zM568.75 459.61h2.76v1.00h-2.76zM570.70 471.71h2.76v1.00h-2.76zM574.62 498.33h2.76v1.00h-2.76zM578.54 472.92h2.76v1.00h-2.76zM580.50 449.93h2.76v1.00h-2.76zM582.46 435.41h2.76v1.00h-2.76zM584.42 465.66h2.76v1.00h-2.76zM588.34 475.34h2.76v1.00h-2.76zM590.30 447.83h2.76v1.57h-2.76zM592.25 449.04h2.76v1.57h-2.76zM594.21 464.45h2.76v1.00h-2.76zM596.17 472.03h2.76v1.57h-2.76zM598.13 498.33h2.76v1.00h-2.76zM602.05 465.66h2.76v1.00h-2.76zM604.01 475.34h2.76v1.00h-2.76zM605.97 465.66h2.76v1.00h-2.76zM607.93 449.93h2.76v1.00h-2.76zM609.89 468.40h2.76v1.57h-2.76zM611.85 499.54h2.76v1.00h-2.76zM617.72 438.15h2.76v1.57h-2.76zM619.68 448.72h2.76v1.00h-2.76zM621.64 442.67h2.76v1.00h-2.76zM623.60 484.13h2.76v1.57h-2.76zM625.56 485.02h2.76v1.00h-2.76zM629.48 486.23h2.76v1.00h-2.76zM631.44 437.83h2.76v1.00h-2.76zM633.40 476.55h2.76v1.00h-2.76zM635.35 434.52h2.76v2.78h-2.76zM637.31 472.03h2.76v1.57h-2.76zM639.27 471.71h2.76v1.00h-2.76zM641.23 516.48h2.76v1.00h-2.76zM643.19 466.87h2.76v1.00h-2.76zM645.15 468.08h2.76v1.00h-2.76zM647.11 458.72h2.76v1.57h-2.76zM651.03 465.66h2.76v1.00h-2.76zM652.99 465.98h2.76v1.57h-2.76zM656.90 462.35h2.76v2.78h-2.76zM658.86 492.28h2.76v1.00h-2.76zM660.82 411.20h2.76v1.00h-2.76zM662.78 418.78h2.76v1.57h-2.76zM664.74 377.64h2.76v2.78h-2.76zM666.70 450.25h2.76v1.57h-2.76zM670.62 425.73h2.76v1.00h-2.76zM672.58 387.32h2.76v5.20h-2.76zM674.54 367.96h2.76v2.78h-2.76zM676.49 374.01h2.76v1.57h-2.76zM678.45 365.54h2.76v3.99h-2.76zM680.41 406.68h2.76v1.57h-2.76zM682.37 470.82h2.76v1.57h-2.76zM684.33 382.48h2.76v6.41h-2.76zM686.29 271.15h2.76v6.41h-2.76zM688.25 295.35h2.76v6.41h-2.76zM690.21 292.93h2.76v5.20h-2.76zM692.17 311.09h2.76v3.99h-2.76zM694.13 348.60h2.76v3.99h-2.76zM696.09 459.93h2.76v1.57h-2.76zM698.04 398.21h2.76v1.57h-2.76zM700.00 352.23h2.76v3.99h-2.76zM701.96 239.69h2.76v2.78h-2.76zM703.92 279.62h2.76v5.20h-2.76zM705.88 325.61h2.76v2.78h-2.76zM707.84 364.33h2.76v3.99h-2.76zM709.80 443.88h2.76v1.00h-2.76zM711.76 353.44h2.76v3.99h-2.76zM713.72 285.67h2.76v5.20h-2.76zM715.68 306.25h2.76v1.57h-2.76zM717.63 317.14h2.76v8.83h-2.76zM719.59 313.51h2.76v6.41h-2.76zM721.55 381.27h2.76v1.57h-2.76zM723.51 464.45h2.76v1.00h-2.76zM725.47 360.70h2.76v2.78h-2.76zM727.43 248.16h2.76v5.20h-2.76zM729.39 285.67h2.76v6.41h-2.76zM731.35 198.55h2.76v7.62h-2.76zM733.31 274.78h2.76v3.99h-2.76zM735.27 265.10h2.76v3.99h-2.76zM737.23 398.21h2.76v1.57h-2.76zM739.18 271.15h2.76v7.62h-2.76zM741.14 197.34h2.76v3.99h-2.76zM743.10 157.40h2.76v6.41h-2.76zM745.06 187.66h2.76v7.62h-2.76zM747.02 162.24h2.76v16.09h-2.76zM748.98 256.63h2.76v3.99h-2.76zM750.94 318.35h2.76v3.99h-2.76z"/>
<path fill="#7a2552" d="M174.97 540.68h2.76v1.00h-2.76z"/>
<path fill="#661d1f" d="M225.91 528.58h2.76v1.00h-2.76zM288.60 511.64h2.76v1.00h-2.76zM437.49 511.64h2.76v1.00h-2.76zM441.41 486.23h2.76v1.00h-2.76zM447.28 506.80h2.76v1.00h-2.76zM461.00 504.38h2.76v1.00h-2.76zM668.66 499.54h2.76v1.00h-2.76z"/>
<path fill="#fdbb2d" d="M615.76 478.97h2.76v1.00h-2.76zM621.64 441.46h2.76v1.00h-2.76zM750.94 316.82h2.76v1.00h-2.76z"/>
</g>
<g id="xlabels">
<text class="d" transform="translate(140.10 576.20) scale(0.92 1)" x="0.42 11.93 24.33 36.29" y="0" font-size="20">2<tspan class="m">/</tspan>24</text>
<text class="d" transform="translate(179.28 576.20) scale(0.92 1)" x="0.42 11.93 24.33 36.29" y="0" font-size="20">3<tspan class="m">/</tspan>15</text>
<text class="d" transform="translate(223.96 576.20) scale(0.92 1)" x="0.42 11.93 24.33" y="0" font-size="20">4<tspan class="m">/</tspan>4</text>
<text class="d" transform="translate(257.64 576.20) scale(0.92 1)" x="0.42 11.93 24.33 36.29" y="0" font-size="20">4<tspan class="m">/</tspan>24</text>
<text class="d" transform="translate(296.82 576.20) scale(0.92 1)" x="0.42 11.93 24.33 36.29" y="0" font-size="20">5<tspan class="m">/</tspan>14</text>
<text class="d" transform="translate(341.50 576.20) scale(0.92 1)" x="0.42 11.93 24.33" y="0" font-size="20">6<tspan class="m">/</tspan>3</text>
<text class="d" transform="translate(375.18 576.20) scale(0.92 1)" x="0.42 11.93 24.33 36.29" y="0" font-size="20">6<tspan class="m">/</tspan>23</text>
<text class="d" transform="translate(414.36 576.20) scale(0.92 1)" x="0.42 11.93 24.33 36.29" y="0" font-size="20">7<tspan class="m">/</tspan>13</text>
<text class="d" transform="translate(459.04 576.20) scale(0.92 1)" x="0.42 11.93 24.33" y="0" font-size="20">8<tspan class="m">/</tspan>2</text>
<text class="d" transform="translate(492.72 576.20) scale(0.92 1)" x="0.42 11.93 24.33 36.29" y="0" font-size="20">8<tspan class="m">/</tspan>22</text>
<text class="d" transform="translate(531.90 576.20) scale(0.92 1)" x="0.42 11.93 24.33 36.29" y="0" font-size="20">9<tspan class="m">/</tspan>11</text>
<text class="d" transform="translate(571.08 576.20) scale(0.92 1)" x="0.42 12.37 23.89 36.29" y="0" font-size="20">10<tspan class="m">/</tspan>1</text>
<text class="d" transform="translate(604.76 576.20) scale(0.92 1)" x="0.42 12.37 23.89 36.29 48.24" y="0" font-size="20">10<tspan class="m">/</tspan>21</text>
<text class="d" transform="translate(643.94 576.20) scale(0.92 1)" x="0.42 12.37 23.89 36.29 48.24" y="0" font-size="20">11<tspan class="m">/</tspan>10</text>
<text class="d" transform="translate(683.12 576.20) scale(0.92 1)" x="0.42 12.37 23.89 36.29 48.24" y="0" font-size="20">11<tspan class="m">/</tspan>30</text>
<text class="d" transform="translate(724.20 576.20) scale(0.92 1)" x="0.42 12.37 23.89 36.29 48.24" y="0" font-size="20">12<tspan class="m">/</tspan>21</text>
</g>
</svg>
</body>
</html>
